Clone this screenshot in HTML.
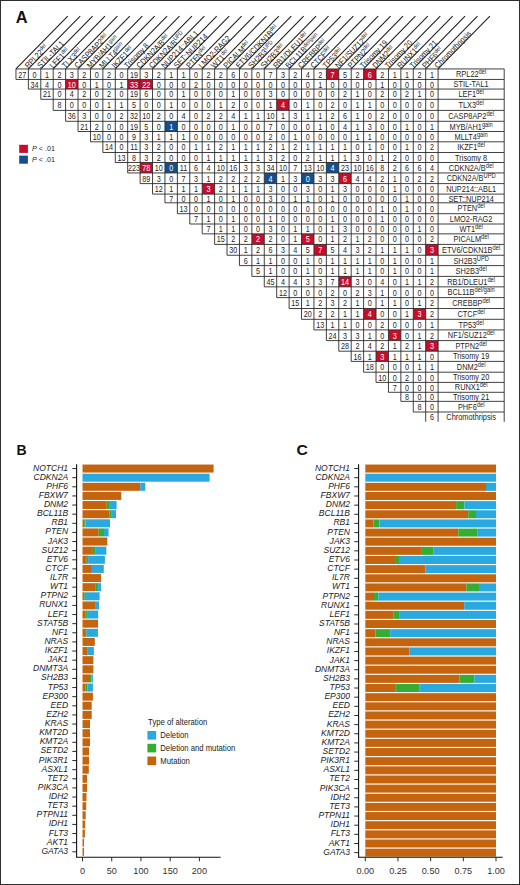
<!DOCTYPE html>
<html><head><meta charset="utf-8"><style>
html,body{margin:0;padding:0;background:#fff;}
svg{display:block;font-family:"Liberation Sans", sans-serif;}
</style></head><body>
<svg width="520" height="885" viewBox="0 0 520 885">
<rect width="520" height="885" fill="#fff"/>
<rect x="0.5" y="0.5" width="519" height="884" fill="none" stroke="#2e2e2e" stroke-width="1"/>
<text x="15.8" y="22.6" font-size="16.4" font-weight="bold" fill="#111">A</text>
<text x="16.6" y="455.1" font-size="14" font-weight="bold" fill="#111">B</text>
<text transform="translate(296.6,455.4) scale(1.1,1)" font-size="14.2" font-weight="bold" fill="#111">C</text>
<line x1="15.96" y1="68.95" x2="67.76" y2="16.15" stroke="#1c1c1c" stroke-width="1.05"/>
<line x1="28.38" y1="68.95" x2="80.18" y2="16.15" stroke="#1c1c1c" stroke-width="1.05"/>
<line x1="40.79" y1="68.95" x2="92.59" y2="16.15" stroke="#1c1c1c" stroke-width="1.05"/>
<line x1="53.21" y1="68.95" x2="105.01" y2="16.15" stroke="#1c1c1c" stroke-width="1.05"/>
<line x1="65.62" y1="68.95" x2="117.42" y2="16.15" stroke="#1c1c1c" stroke-width="1.05"/>
<line x1="78.04" y1="68.95" x2="129.84" y2="16.15" stroke="#1c1c1c" stroke-width="1.05"/>
<line x1="90.46" y1="68.95" x2="142.26" y2="16.15" stroke="#1c1c1c" stroke-width="1.05"/>
<line x1="102.87" y1="68.95" x2="154.67" y2="16.15" stroke="#1c1c1c" stroke-width="1.05"/>
<line x1="115.29" y1="68.95" x2="167.09" y2="16.15" stroke="#1c1c1c" stroke-width="1.05"/>
<line x1="127.70" y1="68.95" x2="179.50" y2="16.15" stroke="#1c1c1c" stroke-width="1.05"/>
<line x1="140.12" y1="68.95" x2="191.92" y2="16.15" stroke="#1c1c1c" stroke-width="1.05"/>
<line x1="152.54" y1="68.95" x2="204.34" y2="16.15" stroke="#1c1c1c" stroke-width="1.05"/>
<line x1="164.95" y1="68.95" x2="216.75" y2="16.15" stroke="#1c1c1c" stroke-width="1.05"/>
<line x1="177.37" y1="68.95" x2="229.17" y2="16.15" stroke="#1c1c1c" stroke-width="1.05"/>
<line x1="189.78" y1="68.95" x2="241.58" y2="16.15" stroke="#1c1c1c" stroke-width="1.05"/>
<line x1="202.20" y1="68.95" x2="254.00" y2="16.15" stroke="#1c1c1c" stroke-width="1.05"/>
<line x1="214.62" y1="68.95" x2="266.42" y2="16.15" stroke="#1c1c1c" stroke-width="1.05"/>
<line x1="227.03" y1="68.95" x2="278.83" y2="16.15" stroke="#1c1c1c" stroke-width="1.05"/>
<line x1="239.45" y1="68.95" x2="291.25" y2="16.15" stroke="#1c1c1c" stroke-width="1.05"/>
<line x1="251.86" y1="68.95" x2="303.66" y2="16.15" stroke="#1c1c1c" stroke-width="1.05"/>
<line x1="264.28" y1="68.95" x2="316.08" y2="16.15" stroke="#1c1c1c" stroke-width="1.05"/>
<line x1="276.70" y1="68.95" x2="328.50" y2="16.15" stroke="#1c1c1c" stroke-width="1.05"/>
<line x1="289.11" y1="68.95" x2="340.91" y2="16.15" stroke="#1c1c1c" stroke-width="1.05"/>
<line x1="301.53" y1="68.95" x2="353.33" y2="16.15" stroke="#1c1c1c" stroke-width="1.05"/>
<line x1="313.94" y1="68.95" x2="365.74" y2="16.15" stroke="#1c1c1c" stroke-width="1.05"/>
<line x1="326.36" y1="68.95" x2="378.16" y2="16.15" stroke="#1c1c1c" stroke-width="1.05"/>
<line x1="338.78" y1="68.95" x2="390.58" y2="16.15" stroke="#1c1c1c" stroke-width="1.05"/>
<line x1="351.19" y1="68.95" x2="402.99" y2="16.15" stroke="#1c1c1c" stroke-width="1.05"/>
<line x1="363.61" y1="68.95" x2="415.41" y2="16.15" stroke="#1c1c1c" stroke-width="1.05"/>
<line x1="376.02" y1="68.95" x2="427.82" y2="16.15" stroke="#1c1c1c" stroke-width="1.05"/>
<line x1="388.44" y1="68.95" x2="440.24" y2="16.15" stroke="#1c1c1c" stroke-width="1.05"/>
<line x1="400.86" y1="68.95" x2="452.66" y2="16.15" stroke="#1c1c1c" stroke-width="1.05"/>
<line x1="413.27" y1="68.95" x2="465.07" y2="16.15" stroke="#1c1c1c" stroke-width="1.05"/>
<line x1="425.69" y1="68.95" x2="477.49" y2="16.15" stroke="#1c1c1c" stroke-width="1.05"/>
<line x1="438.10" y1="68.95" x2="489.90" y2="16.15" stroke="#1c1c1c" stroke-width="1.05"/>
<text transform="translate(28.13,68.70) rotate(-45.55) scale(0.88,1)" font-size="8.2" fill="#242424">RPL22<tspan font-size="5.90" dy="-3">del</tspan></text>
<text transform="translate(40.54,68.70) rotate(-45.55) scale(0.88,1)" font-size="8.2" fill="#242424">STIL-TAL1</text>
<text transform="translate(52.96,68.70) rotate(-45.55) scale(0.88,1)" font-size="8.2" fill="#242424">LEF1<tspan font-size="5.90" dy="-3">del</tspan></text>
<text transform="translate(65.37,68.70) rotate(-45.55) scale(0.88,1)" font-size="8.2" fill="#242424">TLX3<tspan font-size="5.90" dy="-3">del</tspan></text>
<text transform="translate(77.79,68.70) rotate(-45.55) scale(0.88,1)" font-size="8.2" fill="#242424">CASP8AP2<tspan font-size="5.90" dy="-3">del</tspan></text>
<text transform="translate(90.21,68.70) rotate(-45.55) scale(0.88,1)" font-size="8.2" fill="#242424">MYB/AH1<tspan font-size="5.90" dy="-3">gain</tspan></text>
<text transform="translate(102.62,68.70) rotate(-45.55) scale(0.88,1)" font-size="8.2" fill="#242424">MLLT4<tspan font-size="5.90" dy="-3">gain</tspan></text>
<text transform="translate(115.04,68.70) rotate(-45.55) scale(0.88,1)" font-size="8.2" fill="#242424">IKZF1<tspan font-size="5.90" dy="-3">del</tspan></text>
<text transform="translate(127.45,68.70) rotate(-45.55) scale(0.88,1)" font-size="8.2" fill="#242424">Trisomy 8</text>
<text transform="translate(139.87,68.70) rotate(-45.55) scale(0.88,1)" font-size="8.2" fill="#242424">CDKN2A/B<tspan font-size="5.90" dy="-3">del</tspan></text>
<text transform="translate(152.29,68.70) rotate(-45.55) scale(0.88,1)" font-size="8.2" fill="#242424">CDKN2A/B<tspan font-size="5.90" dy="-3">UPD</tspan></text>
<text transform="translate(164.70,68.70) rotate(-45.55) scale(0.88,1)" font-size="8.2" fill="#242424">NUP214::ABL1</text>
<text transform="translate(177.12,68.70) rotate(-45.55) scale(0.88,1)" font-size="8.2" fill="#242424">SET::NUP214</text>
<text transform="translate(189.53,68.70) rotate(-45.55) scale(0.88,1)" font-size="8.2" fill="#242424">PTEN<tspan font-size="5.90" dy="-3">del</tspan></text>
<text transform="translate(201.95,68.70) rotate(-45.55) scale(0.88,1)" font-size="8.2" fill="#242424">LMO2-RAG2</text>
<text transform="translate(214.37,68.70) rotate(-45.55) scale(0.88,1)" font-size="8.2" fill="#242424">WT1<tspan font-size="5.90" dy="-3">del</tspan></text>
<text transform="translate(226.78,68.70) rotate(-45.55) scale(0.88,1)" font-size="8.2" fill="#242424">PICALM<tspan font-size="5.90" dy="-3">del</tspan></text>
<text transform="translate(239.20,68.70) rotate(-45.55) scale(0.88,1)" font-size="8.2" fill="#242424">ETV6/CDKN1B<tspan font-size="5.90" dy="-3">del</tspan></text>
<text transform="translate(251.61,68.70) rotate(-45.55) scale(0.88,1)" font-size="8.2" fill="#242424">SH2B3<tspan font-size="5.90" dy="-3">UPD</tspan></text>
<text transform="translate(264.03,68.70) rotate(-45.55) scale(0.88,1)" font-size="8.2" fill="#242424">SH2B3<tspan font-size="5.90" dy="-3">del</tspan></text>
<text transform="translate(276.45,68.70) rotate(-45.55) scale(0.88,1)" font-size="8.2" fill="#242424">RB1/DLEU1<tspan font-size="5.90" dy="-3">del</tspan></text>
<text transform="translate(288.86,68.70) rotate(-45.55) scale(0.88,1)" font-size="8.2" fill="#242424">BCL11B<tspan font-size="5.90" dy="-3">del/gain</tspan></text>
<text transform="translate(301.28,68.70) rotate(-45.55) scale(0.88,1)" font-size="8.2" fill="#242424">CREBBP<tspan font-size="5.90" dy="-3">del</tspan></text>
<text transform="translate(313.69,68.70) rotate(-45.55) scale(0.88,1)" font-size="8.2" fill="#242424">CTCF<tspan font-size="5.90" dy="-3">del</tspan></text>
<text transform="translate(326.11,68.70) rotate(-45.55) scale(0.88,1)" font-size="8.2" fill="#242424">TP53<tspan font-size="5.90" dy="-3">del</tspan></text>
<text transform="translate(338.53,68.70) rotate(-45.55) scale(0.88,1)" font-size="8.2" fill="#242424">NF1/SUZ12<tspan font-size="5.90" dy="-3">del</tspan></text>
<text transform="translate(350.94,68.70) rotate(-45.55) scale(0.88,1)" font-size="8.2" fill="#242424">PTPN2<tspan font-size="5.90" dy="-3">del</tspan></text>
<text transform="translate(363.36,68.70) rotate(-45.55) scale(0.88,1)" font-size="8.2" fill="#242424">Trisomy 19</text>
<text transform="translate(375.77,68.70) rotate(-45.55) scale(0.88,1)" font-size="8.2" fill="#242424">DNM2<tspan font-size="5.90" dy="-3">del</tspan></text>
<text transform="translate(388.19,68.70) rotate(-45.55) scale(0.88,1)" font-size="8.2" fill="#242424">Trisomy 20</text>
<text transform="translate(400.61,68.70) rotate(-45.55) scale(0.88,1)" font-size="8.2" fill="#242424">RUNX1<tspan font-size="5.90" dy="-3">del</tspan></text>
<text transform="translate(413.02,68.70) rotate(-45.55) scale(0.88,1)" font-size="8.2" fill="#242424">Trisomy 21</text>
<text transform="translate(425.44,68.70) rotate(-45.55) scale(0.88,1)" font-size="8.2" fill="#242424">PHF6<tspan font-size="5.90" dy="-3">del</tspan></text>
<text transform="translate(437.85,68.70) rotate(-45.55) scale(0.88,1)" font-size="8.2" fill="#242424">Chromothripsis</text>
<rect x="326.36" y="68.95" width="12.42" height="10.50" fill="#c70d2c"/>
<rect x="363.61" y="68.95" width="12.42" height="10.50" fill="#c70d2c"/>
<rect x="65.62" y="79.45" width="12.42" height="9.60" fill="#c70d2c"/>
<rect x="127.70" y="79.45" width="12.42" height="9.60" fill="#c70d2c"/>
<rect x="140.12" y="79.45" width="12.42" height="9.60" fill="#c70d2c"/>
<rect x="276.70" y="99.30" width="12.42" height="11.10" fill="#c70d2c"/>
<rect x="164.95" y="121.30" width="12.42" height="10.20" fill="#134e8d"/>
<rect x="140.12" y="162.50" width="12.42" height="10.45" fill="#c70d2c"/>
<rect x="164.95" y="162.50" width="12.42" height="10.45" fill="#134e8d"/>
<rect x="326.36" y="162.50" width="12.42" height="10.45" fill="#134e8d"/>
<rect x="264.28" y="172.95" width="12.42" height="10.65" fill="#134e8d"/>
<rect x="301.53" y="172.95" width="12.42" height="10.65" fill="#134e8d"/>
<rect x="338.78" y="172.95" width="12.42" height="10.65" fill="#c70d2c"/>
<rect x="202.20" y="183.60" width="12.42" height="10.50" fill="#c70d2c"/>
<rect x="251.86" y="233.85" width="12.42" height="10.55" fill="#c70d2c"/>
<rect x="301.53" y="233.85" width="12.42" height="10.55" fill="#c70d2c"/>
<rect x="313.94" y="244.40" width="12.42" height="10.85" fill="#c70d2c"/>
<rect x="425.69" y="244.40" width="12.42" height="10.85" fill="#c70d2c"/>
<rect x="338.78" y="276.40" width="12.42" height="10.45" fill="#c70d2c"/>
<rect x="363.61" y="308.50" width="12.42" height="10.80" fill="#c70d2c"/>
<rect x="413.27" y="308.50" width="12.42" height="10.80" fill="#c70d2c"/>
<rect x="388.44" y="329.90" width="12.42" height="10.70" fill="#c70d2c"/>
<rect x="425.69" y="340.60" width="12.42" height="10.60" fill="#c70d2c"/>
<rect x="376.02" y="351.20" width="12.42" height="10.20" fill="#c70d2c"/>
<line x1="15.96" y1="68.95" x2="504.20" y2="68.95" stroke="#2b2b2b" stroke-width="0.9"/>
<line x1="15.96" y1="79.45" x2="504.20" y2="79.45" stroke="#2b2b2b" stroke-width="0.9"/>
<line x1="28.38" y1="89.05" x2="504.20" y2="89.05" stroke="#2b2b2b" stroke-width="0.9"/>
<line x1="40.79" y1="99.30" x2="504.20" y2="99.30" stroke="#2b2b2b" stroke-width="0.9"/>
<line x1="53.21" y1="110.40" x2="504.20" y2="110.40" stroke="#2b2b2b" stroke-width="0.9"/>
<line x1="65.62" y1="121.30" x2="504.20" y2="121.30" stroke="#2b2b2b" stroke-width="0.9"/>
<line x1="78.04" y1="131.50" x2="504.20" y2="131.50" stroke="#2b2b2b" stroke-width="0.9"/>
<line x1="90.46" y1="141.80" x2="504.20" y2="141.80" stroke="#2b2b2b" stroke-width="0.9"/>
<line x1="102.87" y1="152.50" x2="504.20" y2="152.50" stroke="#2b2b2b" stroke-width="0.9"/>
<line x1="115.29" y1="162.50" x2="504.20" y2="162.50" stroke="#2b2b2b" stroke-width="0.9"/>
<line x1="127.70" y1="172.95" x2="504.20" y2="172.95" stroke="#2b2b2b" stroke-width="0.9"/>
<line x1="140.12" y1="183.60" x2="504.20" y2="183.60" stroke="#2b2b2b" stroke-width="0.9"/>
<line x1="152.54" y1="194.10" x2="504.20" y2="194.10" stroke="#2b2b2b" stroke-width="0.9"/>
<line x1="164.95" y1="202.80" x2="504.20" y2="202.80" stroke="#2b2b2b" stroke-width="0.9"/>
<line x1="177.37" y1="213.70" x2="504.20" y2="213.70" stroke="#2b2b2b" stroke-width="0.9"/>
<line x1="189.78" y1="224.00" x2="504.20" y2="224.00" stroke="#2b2b2b" stroke-width="0.9"/>
<line x1="202.20" y1="233.85" x2="504.20" y2="233.85" stroke="#2b2b2b" stroke-width="0.9"/>
<line x1="214.62" y1="244.40" x2="504.20" y2="244.40" stroke="#2b2b2b" stroke-width="0.9"/>
<line x1="227.03" y1="255.25" x2="504.20" y2="255.25" stroke="#2b2b2b" stroke-width="0.9"/>
<line x1="239.45" y1="265.60" x2="504.20" y2="265.60" stroke="#2b2b2b" stroke-width="0.9"/>
<line x1="251.86" y1="276.40" x2="504.20" y2="276.40" stroke="#2b2b2b" stroke-width="0.9"/>
<line x1="264.28" y1="286.85" x2="504.20" y2="286.85" stroke="#2b2b2b" stroke-width="0.9"/>
<line x1="276.70" y1="297.60" x2="504.20" y2="297.60" stroke="#2b2b2b" stroke-width="0.9"/>
<line x1="289.11" y1="308.50" x2="504.20" y2="308.50" stroke="#2b2b2b" stroke-width="0.9"/>
<line x1="301.53" y1="319.30" x2="504.20" y2="319.30" stroke="#2b2b2b" stroke-width="0.9"/>
<line x1="313.94" y1="329.90" x2="504.20" y2="329.90" stroke="#2b2b2b" stroke-width="0.9"/>
<line x1="326.36" y1="340.60" x2="504.20" y2="340.60" stroke="#2b2b2b" stroke-width="0.9"/>
<line x1="338.78" y1="351.20" x2="504.20" y2="351.20" stroke="#2b2b2b" stroke-width="0.9"/>
<line x1="351.19" y1="361.40" x2="504.20" y2="361.40" stroke="#2b2b2b" stroke-width="0.9"/>
<line x1="363.61" y1="372.20" x2="504.20" y2="372.20" stroke="#2b2b2b" stroke-width="0.9"/>
<line x1="376.02" y1="382.40" x2="504.20" y2="382.40" stroke="#2b2b2b" stroke-width="0.9"/>
<line x1="388.44" y1="392.30" x2="504.20" y2="392.30" stroke="#2b2b2b" stroke-width="0.9"/>
<line x1="400.86" y1="401.35" x2="504.20" y2="401.35" stroke="#2b2b2b" stroke-width="0.9"/>
<line x1="413.27" y1="412.00" x2="504.20" y2="412.00" stroke="#2b2b2b" stroke-width="0.9"/>
<line x1="15.96" y1="68.95" x2="15.96" y2="79.45" stroke="#2b2b2b" stroke-width="0.9"/>
<line x1="28.38" y1="68.95" x2="28.38" y2="89.05" stroke="#2b2b2b" stroke-width="0.9"/>
<line x1="40.79" y1="68.95" x2="40.79" y2="99.30" stroke="#2b2b2b" stroke-width="0.9"/>
<line x1="53.21" y1="68.95" x2="53.21" y2="110.40" stroke="#2b2b2b" stroke-width="0.9"/>
<line x1="65.62" y1="68.95" x2="65.62" y2="121.30" stroke="#2b2b2b" stroke-width="0.9"/>
<line x1="78.04" y1="68.95" x2="78.04" y2="131.50" stroke="#2b2b2b" stroke-width="0.9"/>
<line x1="90.46" y1="68.95" x2="90.46" y2="141.80" stroke="#2b2b2b" stroke-width="0.9"/>
<line x1="102.87" y1="68.95" x2="102.87" y2="152.50" stroke="#2b2b2b" stroke-width="0.9"/>
<line x1="115.29" y1="68.95" x2="115.29" y2="162.50" stroke="#2b2b2b" stroke-width="0.9"/>
<line x1="127.70" y1="68.95" x2="127.70" y2="172.95" stroke="#2b2b2b" stroke-width="0.9"/>
<line x1="140.12" y1="68.95" x2="140.12" y2="183.60" stroke="#2b2b2b" stroke-width="0.9"/>
<line x1="152.54" y1="68.95" x2="152.54" y2="194.10" stroke="#2b2b2b" stroke-width="0.9"/>
<line x1="164.95" y1="68.95" x2="164.95" y2="202.80" stroke="#2b2b2b" stroke-width="0.9"/>
<line x1="177.37" y1="68.95" x2="177.37" y2="213.70" stroke="#2b2b2b" stroke-width="0.9"/>
<line x1="189.78" y1="68.95" x2="189.78" y2="224.00" stroke="#2b2b2b" stroke-width="0.9"/>
<line x1="202.20" y1="68.95" x2="202.20" y2="233.85" stroke="#2b2b2b" stroke-width="0.9"/>
<line x1="214.62" y1="68.95" x2="214.62" y2="244.40" stroke="#2b2b2b" stroke-width="0.9"/>
<line x1="227.03" y1="68.95" x2="227.03" y2="255.25" stroke="#2b2b2b" stroke-width="0.9"/>
<line x1="239.45" y1="68.95" x2="239.45" y2="265.60" stroke="#2b2b2b" stroke-width="0.9"/>
<line x1="251.86" y1="68.95" x2="251.86" y2="276.40" stroke="#2b2b2b" stroke-width="0.9"/>
<line x1="264.28" y1="68.95" x2="264.28" y2="286.85" stroke="#2b2b2b" stroke-width="0.9"/>
<line x1="276.70" y1="68.95" x2="276.70" y2="297.60" stroke="#2b2b2b" stroke-width="0.9"/>
<line x1="289.11" y1="68.95" x2="289.11" y2="308.50" stroke="#2b2b2b" stroke-width="0.9"/>
<line x1="301.53" y1="68.95" x2="301.53" y2="319.30" stroke="#2b2b2b" stroke-width="0.9"/>
<line x1="313.94" y1="68.95" x2="313.94" y2="329.90" stroke="#2b2b2b" stroke-width="0.9"/>
<line x1="326.36" y1="68.95" x2="326.36" y2="340.60" stroke="#2b2b2b" stroke-width="0.9"/>
<line x1="338.78" y1="68.95" x2="338.78" y2="351.20" stroke="#2b2b2b" stroke-width="0.9"/>
<line x1="351.19" y1="68.95" x2="351.19" y2="361.40" stroke="#2b2b2b" stroke-width="0.9"/>
<line x1="363.61" y1="68.95" x2="363.61" y2="372.20" stroke="#2b2b2b" stroke-width="0.9"/>
<line x1="376.02" y1="68.95" x2="376.02" y2="382.40" stroke="#2b2b2b" stroke-width="0.9"/>
<line x1="388.44" y1="68.95" x2="388.44" y2="392.30" stroke="#2b2b2b" stroke-width="0.9"/>
<line x1="400.86" y1="68.95" x2="400.86" y2="401.35" stroke="#2b2b2b" stroke-width="0.9"/>
<line x1="413.27" y1="68.95" x2="413.27" y2="412.00" stroke="#2b2b2b" stroke-width="0.9"/>
<line x1="425.69" y1="68.95" x2="425.69" y2="421.80" stroke="#2b2b2b" stroke-width="0.9"/>
<line x1="438.10" y1="68.95" x2="438.10" y2="421.80" stroke="#2b2b2b" stroke-width="0.9"/>
<line x1="504.20" y1="68.95" x2="504.20" y2="421.80" stroke="#2b2b2b" stroke-width="0.9"/>
<text transform="translate(22.17,77.50) scale(0.85,1)" font-size="8.5" text-anchor="middle" fill="#242424">27</text>
<text transform="translate(34.58,77.50) scale(0.85,1)" font-size="8.5" text-anchor="middle" fill="#242424">0</text>
<text transform="translate(47.00,77.50) scale(0.85,1)" font-size="8.5" text-anchor="middle" fill="#242424">1</text>
<text transform="translate(59.42,77.50) scale(0.85,1)" font-size="8.5" text-anchor="middle" fill="#242424">2</text>
<text transform="translate(71.83,77.50) scale(0.85,1)" font-size="8.5" text-anchor="middle" fill="#242424">3</text>
<text transform="translate(84.25,77.50) scale(0.85,1)" font-size="8.5" text-anchor="middle" fill="#242424">2</text>
<text transform="translate(96.66,77.50) scale(0.85,1)" font-size="8.5" text-anchor="middle" fill="#242424">0</text>
<text transform="translate(109.08,77.50) scale(0.85,1)" font-size="8.5" text-anchor="middle" fill="#242424">2</text>
<text transform="translate(121.50,77.50) scale(0.85,1)" font-size="8.5" text-anchor="middle" fill="#242424">0</text>
<text transform="translate(133.91,77.50) scale(0.85,1)" font-size="8.5" text-anchor="middle" fill="#242424">19</text>
<text transform="translate(146.33,77.50) scale(0.85,1)" font-size="8.5" text-anchor="middle" fill="#242424">3</text>
<text transform="translate(158.74,77.50) scale(0.85,1)" font-size="8.5" text-anchor="middle" fill="#242424">2</text>
<text transform="translate(171.16,77.50) scale(0.85,1)" font-size="8.5" text-anchor="middle" fill="#242424">1</text>
<text transform="translate(183.58,77.50) scale(0.85,1)" font-size="8.5" text-anchor="middle" fill="#242424">1</text>
<text transform="translate(195.99,77.50) scale(0.85,1)" font-size="8.5" text-anchor="middle" fill="#242424">0</text>
<text transform="translate(208.41,77.50) scale(0.85,1)" font-size="8.5" text-anchor="middle" fill="#242424">2</text>
<text transform="translate(220.82,77.50) scale(0.85,1)" font-size="8.5" text-anchor="middle" fill="#242424">2</text>
<text transform="translate(233.24,77.50) scale(0.85,1)" font-size="8.5" text-anchor="middle" fill="#242424">6</text>
<text transform="translate(245.66,77.50) scale(0.85,1)" font-size="8.5" text-anchor="middle" fill="#242424">0</text>
<text transform="translate(258.07,77.50) scale(0.85,1)" font-size="8.5" text-anchor="middle" fill="#242424">0</text>
<text transform="translate(270.49,77.50) scale(0.85,1)" font-size="8.5" text-anchor="middle" fill="#242424">7</text>
<text transform="translate(282.90,77.50) scale(0.85,1)" font-size="8.5" text-anchor="middle" fill="#242424">3</text>
<text transform="translate(295.32,77.50) scale(0.85,1)" font-size="8.5" text-anchor="middle" fill="#242424">2</text>
<text transform="translate(307.74,77.50) scale(0.85,1)" font-size="8.5" text-anchor="middle" fill="#242424">4</text>
<text transform="translate(320.15,77.50) scale(0.85,1)" font-size="8.5" text-anchor="middle" fill="#242424">2</text>
<text transform="translate(332.57,77.50) scale(0.85,1)" font-size="8.5" text-anchor="middle" fill="#ffffff">7</text>
<text transform="translate(344.98,77.50) scale(0.85,1)" font-size="8.5" text-anchor="middle" fill="#242424">5</text>
<text transform="translate(357.40,77.50) scale(0.85,1)" font-size="8.5" text-anchor="middle" fill="#242424">2</text>
<text transform="translate(369.82,77.50) scale(0.85,1)" font-size="8.5" text-anchor="middle" fill="#ffffff">6</text>
<text transform="translate(382.23,77.50) scale(0.85,1)" font-size="8.5" text-anchor="middle" fill="#242424">2</text>
<text transform="translate(394.65,77.50) scale(0.85,1)" font-size="8.5" text-anchor="middle" fill="#242424">1</text>
<text transform="translate(407.06,77.50) scale(0.85,1)" font-size="8.5" text-anchor="middle" fill="#242424">1</text>
<text transform="translate(419.48,77.50) scale(0.85,1)" font-size="8.5" text-anchor="middle" fill="#242424">2</text>
<text transform="translate(431.90,77.50) scale(0.85,1)" font-size="8.5" text-anchor="middle" fill="#242424">1</text>
<text transform="translate(34.58,87.55) scale(0.85,1)" font-size="8.5" text-anchor="middle" fill="#242424">34</text>
<text transform="translate(47.00,87.55) scale(0.85,1)" font-size="8.5" text-anchor="middle" fill="#242424">4</text>
<text transform="translate(59.42,87.55) scale(0.85,1)" font-size="8.5" text-anchor="middle" fill="#242424">0</text>
<text transform="translate(71.83,87.55) scale(0.85,1)" font-size="8.5" text-anchor="middle" fill="#ffffff">10</text>
<text transform="translate(84.25,87.55) scale(0.85,1)" font-size="8.5" text-anchor="middle" fill="#242424">0</text>
<text transform="translate(96.66,87.55) scale(0.85,1)" font-size="8.5" text-anchor="middle" fill="#242424">1</text>
<text transform="translate(109.08,87.55) scale(0.85,1)" font-size="8.5" text-anchor="middle" fill="#242424">0</text>
<text transform="translate(121.50,87.55) scale(0.85,1)" font-size="8.5" text-anchor="middle" fill="#242424">1</text>
<text transform="translate(133.91,87.55) scale(0.85,1)" font-size="8.5" text-anchor="middle" fill="#ffffff">33</text>
<text transform="translate(146.33,87.55) scale(0.85,1)" font-size="8.5" text-anchor="middle" fill="#ffffff">22</text>
<text transform="translate(158.74,87.55) scale(0.85,1)" font-size="8.5" text-anchor="middle" fill="#242424">0</text>
<text transform="translate(171.16,87.55) scale(0.85,1)" font-size="8.5" text-anchor="middle" fill="#242424">0</text>
<text transform="translate(183.58,87.55) scale(0.85,1)" font-size="8.5" text-anchor="middle" fill="#242424">0</text>
<text transform="translate(195.99,87.55) scale(0.85,1)" font-size="8.5" text-anchor="middle" fill="#242424">2</text>
<text transform="translate(208.41,87.55) scale(0.85,1)" font-size="8.5" text-anchor="middle" fill="#242424">0</text>
<text transform="translate(220.82,87.55) scale(0.85,1)" font-size="8.5" text-anchor="middle" fill="#242424">0</text>
<text transform="translate(233.24,87.55) scale(0.85,1)" font-size="8.5" text-anchor="middle" fill="#242424">0</text>
<text transform="translate(245.66,87.55) scale(0.85,1)" font-size="8.5" text-anchor="middle" fill="#242424">0</text>
<text transform="translate(258.07,87.55) scale(0.85,1)" font-size="8.5" text-anchor="middle" fill="#242424">0</text>
<text transform="translate(270.49,87.55) scale(0.85,1)" font-size="8.5" text-anchor="middle" fill="#242424">0</text>
<text transform="translate(282.90,87.55) scale(0.85,1)" font-size="8.5" text-anchor="middle" fill="#242424">0</text>
<text transform="translate(295.32,87.55) scale(0.85,1)" font-size="8.5" text-anchor="middle" fill="#242424">0</text>
<text transform="translate(307.74,87.55) scale(0.85,1)" font-size="8.5" text-anchor="middle" fill="#242424">0</text>
<text transform="translate(320.15,87.55) scale(0.85,1)" font-size="8.5" text-anchor="middle" fill="#242424">1</text>
<text transform="translate(332.57,87.55) scale(0.85,1)" font-size="8.5" text-anchor="middle" fill="#242424">0</text>
<text transform="translate(344.98,87.55) scale(0.85,1)" font-size="8.5" text-anchor="middle" fill="#242424">0</text>
<text transform="translate(357.40,87.55) scale(0.85,1)" font-size="8.5" text-anchor="middle" fill="#242424">0</text>
<text transform="translate(369.82,87.55) scale(0.85,1)" font-size="8.5" text-anchor="middle" fill="#242424">0</text>
<text transform="translate(382.23,87.55) scale(0.85,1)" font-size="8.5" text-anchor="middle" fill="#242424">1</text>
<text transform="translate(394.65,87.55) scale(0.85,1)" font-size="8.5" text-anchor="middle" fill="#242424">0</text>
<text transform="translate(407.06,87.55) scale(0.85,1)" font-size="8.5" text-anchor="middle" fill="#242424">0</text>
<text transform="translate(419.48,87.55) scale(0.85,1)" font-size="8.5" text-anchor="middle" fill="#242424">0</text>
<text transform="translate(431.90,87.55) scale(0.85,1)" font-size="8.5" text-anchor="middle" fill="#242424">0</text>
<text transform="translate(47.00,97.47) scale(0.85,1)" font-size="8.5" text-anchor="middle" fill="#242424">21</text>
<text transform="translate(59.42,97.47) scale(0.85,1)" font-size="8.5" text-anchor="middle" fill="#242424">0</text>
<text transform="translate(71.83,97.47) scale(0.85,1)" font-size="8.5" text-anchor="middle" fill="#242424">4</text>
<text transform="translate(84.25,97.47) scale(0.85,1)" font-size="8.5" text-anchor="middle" fill="#242424">2</text>
<text transform="translate(96.66,97.47) scale(0.85,1)" font-size="8.5" text-anchor="middle" fill="#242424">0</text>
<text transform="translate(109.08,97.47) scale(0.85,1)" font-size="8.5" text-anchor="middle" fill="#242424">2</text>
<text transform="translate(121.50,97.47) scale(0.85,1)" font-size="8.5" text-anchor="middle" fill="#242424">0</text>
<text transform="translate(133.91,97.47) scale(0.85,1)" font-size="8.5" text-anchor="middle" fill="#242424">19</text>
<text transform="translate(146.33,97.47) scale(0.85,1)" font-size="8.5" text-anchor="middle" fill="#242424">6</text>
<text transform="translate(158.74,97.47) scale(0.85,1)" font-size="8.5" text-anchor="middle" fill="#242424">0</text>
<text transform="translate(171.16,97.47) scale(0.85,1)" font-size="8.5" text-anchor="middle" fill="#242424">0</text>
<text transform="translate(183.58,97.47) scale(0.85,1)" font-size="8.5" text-anchor="middle" fill="#242424">1</text>
<text transform="translate(195.99,97.47) scale(0.85,1)" font-size="8.5" text-anchor="middle" fill="#242424">0</text>
<text transform="translate(208.41,97.47) scale(0.85,1)" font-size="8.5" text-anchor="middle" fill="#242424">0</text>
<text transform="translate(220.82,97.47) scale(0.85,1)" font-size="8.5" text-anchor="middle" fill="#242424">0</text>
<text transform="translate(233.24,97.47) scale(0.85,1)" font-size="8.5" text-anchor="middle" fill="#242424">1</text>
<text transform="translate(245.66,97.47) scale(0.85,1)" font-size="8.5" text-anchor="middle" fill="#242424">0</text>
<text transform="translate(258.07,97.47) scale(0.85,1)" font-size="8.5" text-anchor="middle" fill="#242424">0</text>
<text transform="translate(270.49,97.47) scale(0.85,1)" font-size="8.5" text-anchor="middle" fill="#242424">3</text>
<text transform="translate(282.90,97.47) scale(0.85,1)" font-size="8.5" text-anchor="middle" fill="#242424">0</text>
<text transform="translate(295.32,97.47) scale(0.85,1)" font-size="8.5" text-anchor="middle" fill="#242424">0</text>
<text transform="translate(307.74,97.47) scale(0.85,1)" font-size="8.5" text-anchor="middle" fill="#242424">0</text>
<text transform="translate(320.15,97.47) scale(0.85,1)" font-size="8.5" text-anchor="middle" fill="#242424">0</text>
<text transform="translate(332.57,97.47) scale(0.85,1)" font-size="8.5" text-anchor="middle" fill="#242424">0</text>
<text transform="translate(344.98,97.47) scale(0.85,1)" font-size="8.5" text-anchor="middle" fill="#242424">2</text>
<text transform="translate(357.40,97.47) scale(0.85,1)" font-size="8.5" text-anchor="middle" fill="#242424">1</text>
<text transform="translate(369.82,97.47) scale(0.85,1)" font-size="8.5" text-anchor="middle" fill="#242424">0</text>
<text transform="translate(382.23,97.47) scale(0.85,1)" font-size="8.5" text-anchor="middle" fill="#242424">2</text>
<text transform="translate(394.65,97.47) scale(0.85,1)" font-size="8.5" text-anchor="middle" fill="#242424">0</text>
<text transform="translate(407.06,97.47) scale(0.85,1)" font-size="8.5" text-anchor="middle" fill="#242424">2</text>
<text transform="translate(419.48,97.47) scale(0.85,1)" font-size="8.5" text-anchor="middle" fill="#242424">1</text>
<text transform="translate(431.90,97.47) scale(0.85,1)" font-size="8.5" text-anchor="middle" fill="#242424">0</text>
<text transform="translate(59.42,108.15) scale(0.85,1)" font-size="8.5" text-anchor="middle" fill="#242424">8</text>
<text transform="translate(71.83,108.15) scale(0.85,1)" font-size="8.5" text-anchor="middle" fill="#242424">0</text>
<text transform="translate(84.25,108.15) scale(0.85,1)" font-size="8.5" text-anchor="middle" fill="#242424">0</text>
<text transform="translate(96.66,108.15) scale(0.85,1)" font-size="8.5" text-anchor="middle" fill="#242424">0</text>
<text transform="translate(109.08,108.15) scale(0.85,1)" font-size="8.5" text-anchor="middle" fill="#242424">1</text>
<text transform="translate(121.50,108.15) scale(0.85,1)" font-size="8.5" text-anchor="middle" fill="#242424">1</text>
<text transform="translate(133.91,108.15) scale(0.85,1)" font-size="8.5" text-anchor="middle" fill="#242424">5</text>
<text transform="translate(146.33,108.15) scale(0.85,1)" font-size="8.5" text-anchor="middle" fill="#242424">0</text>
<text transform="translate(158.74,108.15) scale(0.85,1)" font-size="8.5" text-anchor="middle" fill="#242424">0</text>
<text transform="translate(171.16,108.15) scale(0.85,1)" font-size="8.5" text-anchor="middle" fill="#242424">1</text>
<text transform="translate(183.58,108.15) scale(0.85,1)" font-size="8.5" text-anchor="middle" fill="#242424">0</text>
<text transform="translate(195.99,108.15) scale(0.85,1)" font-size="8.5" text-anchor="middle" fill="#242424">0</text>
<text transform="translate(208.41,108.15) scale(0.85,1)" font-size="8.5" text-anchor="middle" fill="#242424">0</text>
<text transform="translate(220.82,108.15) scale(0.85,1)" font-size="8.5" text-anchor="middle" fill="#242424">1</text>
<text transform="translate(233.24,108.15) scale(0.85,1)" font-size="8.5" text-anchor="middle" fill="#242424">2</text>
<text transform="translate(245.66,108.15) scale(0.85,1)" font-size="8.5" text-anchor="middle" fill="#242424">0</text>
<text transform="translate(258.07,108.15) scale(0.85,1)" font-size="8.5" text-anchor="middle" fill="#242424">0</text>
<text transform="translate(270.49,108.15) scale(0.85,1)" font-size="8.5" text-anchor="middle" fill="#242424">1</text>
<text transform="translate(282.90,108.15) scale(0.85,1)" font-size="8.5" text-anchor="middle" fill="#ffffff">4</text>
<text transform="translate(295.32,108.15) scale(0.85,1)" font-size="8.5" text-anchor="middle" fill="#242424">0</text>
<text transform="translate(307.74,108.15) scale(0.85,1)" font-size="8.5" text-anchor="middle" fill="#242424">1</text>
<text transform="translate(320.15,108.15) scale(0.85,1)" font-size="8.5" text-anchor="middle" fill="#242424">0</text>
<text transform="translate(332.57,108.15) scale(0.85,1)" font-size="8.5" text-anchor="middle" fill="#242424">2</text>
<text transform="translate(344.98,108.15) scale(0.85,1)" font-size="8.5" text-anchor="middle" fill="#242424">0</text>
<text transform="translate(357.40,108.15) scale(0.85,1)" font-size="8.5" text-anchor="middle" fill="#242424">1</text>
<text transform="translate(369.82,108.15) scale(0.85,1)" font-size="8.5" text-anchor="middle" fill="#242424">1</text>
<text transform="translate(382.23,108.15) scale(0.85,1)" font-size="8.5" text-anchor="middle" fill="#242424">0</text>
<text transform="translate(394.65,108.15) scale(0.85,1)" font-size="8.5" text-anchor="middle" fill="#242424">0</text>
<text transform="translate(407.06,108.15) scale(0.85,1)" font-size="8.5" text-anchor="middle" fill="#242424">0</text>
<text transform="translate(419.48,108.15) scale(0.85,1)" font-size="8.5" text-anchor="middle" fill="#242424">0</text>
<text transform="translate(431.90,108.15) scale(0.85,1)" font-size="8.5" text-anchor="middle" fill="#242424">0</text>
<text transform="translate(71.83,119.15) scale(0.85,1)" font-size="8.5" text-anchor="middle" fill="#242424">36</text>
<text transform="translate(84.25,119.15) scale(0.85,1)" font-size="8.5" text-anchor="middle" fill="#242424">3</text>
<text transform="translate(96.66,119.15) scale(0.85,1)" font-size="8.5" text-anchor="middle" fill="#242424">0</text>
<text transform="translate(109.08,119.15) scale(0.85,1)" font-size="8.5" text-anchor="middle" fill="#242424">0</text>
<text transform="translate(121.50,119.15) scale(0.85,1)" font-size="8.5" text-anchor="middle" fill="#242424">2</text>
<text transform="translate(133.91,119.15) scale(0.85,1)" font-size="8.5" text-anchor="middle" fill="#242424">32</text>
<text transform="translate(146.33,119.15) scale(0.85,1)" font-size="8.5" text-anchor="middle" fill="#242424">10</text>
<text transform="translate(158.74,119.15) scale(0.85,1)" font-size="8.5" text-anchor="middle" fill="#242424">2</text>
<text transform="translate(171.16,119.15) scale(0.85,1)" font-size="8.5" text-anchor="middle" fill="#242424">0</text>
<text transform="translate(183.58,119.15) scale(0.85,1)" font-size="8.5" text-anchor="middle" fill="#242424">4</text>
<text transform="translate(195.99,119.15) scale(0.85,1)" font-size="8.5" text-anchor="middle" fill="#242424">0</text>
<text transform="translate(208.41,119.15) scale(0.85,1)" font-size="8.5" text-anchor="middle" fill="#242424">2</text>
<text transform="translate(220.82,119.15) scale(0.85,1)" font-size="8.5" text-anchor="middle" fill="#242424">2</text>
<text transform="translate(233.24,119.15) scale(0.85,1)" font-size="8.5" text-anchor="middle" fill="#242424">4</text>
<text transform="translate(245.66,119.15) scale(0.85,1)" font-size="8.5" text-anchor="middle" fill="#242424">1</text>
<text transform="translate(258.07,119.15) scale(0.85,1)" font-size="8.5" text-anchor="middle" fill="#242424">1</text>
<text transform="translate(270.49,119.15) scale(0.85,1)" font-size="8.5" text-anchor="middle" fill="#242424">10</text>
<text transform="translate(282.90,119.15) scale(0.85,1)" font-size="8.5" text-anchor="middle" fill="#242424">1</text>
<text transform="translate(295.32,119.15) scale(0.85,1)" font-size="8.5" text-anchor="middle" fill="#242424">3</text>
<text transform="translate(307.74,119.15) scale(0.85,1)" font-size="8.5" text-anchor="middle" fill="#242424">1</text>
<text transform="translate(320.15,119.15) scale(0.85,1)" font-size="8.5" text-anchor="middle" fill="#242424">1</text>
<text transform="translate(332.57,119.15) scale(0.85,1)" font-size="8.5" text-anchor="middle" fill="#242424">2</text>
<text transform="translate(344.98,119.15) scale(0.85,1)" font-size="8.5" text-anchor="middle" fill="#242424">6</text>
<text transform="translate(357.40,119.15) scale(0.85,1)" font-size="8.5" text-anchor="middle" fill="#242424">1</text>
<text transform="translate(369.82,119.15) scale(0.85,1)" font-size="8.5" text-anchor="middle" fill="#242424">0</text>
<text transform="translate(382.23,119.15) scale(0.85,1)" font-size="8.5" text-anchor="middle" fill="#242424">2</text>
<text transform="translate(394.65,119.15) scale(0.85,1)" font-size="8.5" text-anchor="middle" fill="#242424">0</text>
<text transform="translate(407.06,119.15) scale(0.85,1)" font-size="8.5" text-anchor="middle" fill="#242424">0</text>
<text transform="translate(419.48,119.15) scale(0.85,1)" font-size="8.5" text-anchor="middle" fill="#242424">0</text>
<text transform="translate(431.90,119.15) scale(0.85,1)" font-size="8.5" text-anchor="middle" fill="#242424">0</text>
<text transform="translate(84.25,129.70) scale(0.85,1)" font-size="8.5" text-anchor="middle" fill="#242424">21</text>
<text transform="translate(96.66,129.70) scale(0.85,1)" font-size="8.5" text-anchor="middle" fill="#242424">2</text>
<text transform="translate(109.08,129.70) scale(0.85,1)" font-size="8.5" text-anchor="middle" fill="#242424">0</text>
<text transform="translate(121.50,129.70) scale(0.85,1)" font-size="8.5" text-anchor="middle" fill="#242424">0</text>
<text transform="translate(133.91,129.70) scale(0.85,1)" font-size="8.5" text-anchor="middle" fill="#242424">19</text>
<text transform="translate(146.33,129.70) scale(0.85,1)" font-size="8.5" text-anchor="middle" fill="#242424">5</text>
<text transform="translate(158.74,129.70) scale(0.85,1)" font-size="8.5" text-anchor="middle" fill="#242424">0</text>
<text transform="translate(171.16,129.70) scale(0.85,1)" font-size="8.5" text-anchor="middle" fill="#ffffff">1</text>
<text transform="translate(183.58,129.70) scale(0.85,1)" font-size="8.5" text-anchor="middle" fill="#242424">0</text>
<text transform="translate(195.99,129.70) scale(0.85,1)" font-size="8.5" text-anchor="middle" fill="#242424">0</text>
<text transform="translate(208.41,129.70) scale(0.85,1)" font-size="8.5" text-anchor="middle" fill="#242424">0</text>
<text transform="translate(220.82,129.70) scale(0.85,1)" font-size="8.5" text-anchor="middle" fill="#242424">0</text>
<text transform="translate(233.24,129.70) scale(0.85,1)" font-size="8.5" text-anchor="middle" fill="#242424">1</text>
<text transform="translate(245.66,129.70) scale(0.85,1)" font-size="8.5" text-anchor="middle" fill="#242424">0</text>
<text transform="translate(258.07,129.70) scale(0.85,1)" font-size="8.5" text-anchor="middle" fill="#242424">0</text>
<text transform="translate(270.49,129.70) scale(0.85,1)" font-size="8.5" text-anchor="middle" fill="#242424">7</text>
<text transform="translate(282.90,129.70) scale(0.85,1)" font-size="8.5" text-anchor="middle" fill="#242424">0</text>
<text transform="translate(295.32,129.70) scale(0.85,1)" font-size="8.5" text-anchor="middle" fill="#242424">0</text>
<text transform="translate(307.74,129.70) scale(0.85,1)" font-size="8.5" text-anchor="middle" fill="#242424">0</text>
<text transform="translate(320.15,129.70) scale(0.85,1)" font-size="8.5" text-anchor="middle" fill="#242424">1</text>
<text transform="translate(332.57,129.70) scale(0.85,1)" font-size="8.5" text-anchor="middle" fill="#242424">0</text>
<text transform="translate(344.98,129.70) scale(0.85,1)" font-size="8.5" text-anchor="middle" fill="#242424">4</text>
<text transform="translate(357.40,129.70) scale(0.85,1)" font-size="8.5" text-anchor="middle" fill="#242424">1</text>
<text transform="translate(369.82,129.70) scale(0.85,1)" font-size="8.5" text-anchor="middle" fill="#242424">3</text>
<text transform="translate(382.23,129.70) scale(0.85,1)" font-size="8.5" text-anchor="middle" fill="#242424">0</text>
<text transform="translate(394.65,129.70) scale(0.85,1)" font-size="8.5" text-anchor="middle" fill="#242424">0</text>
<text transform="translate(407.06,129.70) scale(0.85,1)" font-size="8.5" text-anchor="middle" fill="#242424">1</text>
<text transform="translate(419.48,129.70) scale(0.85,1)" font-size="8.5" text-anchor="middle" fill="#242424">0</text>
<text transform="translate(431.90,129.70) scale(0.85,1)" font-size="8.5" text-anchor="middle" fill="#242424">1</text>
<text transform="translate(96.66,139.95) scale(0.85,1)" font-size="8.5" text-anchor="middle" fill="#242424">10</text>
<text transform="translate(109.08,139.95) scale(0.85,1)" font-size="8.5" text-anchor="middle" fill="#242424">0</text>
<text transform="translate(121.50,139.95) scale(0.85,1)" font-size="8.5" text-anchor="middle" fill="#242424">0</text>
<text transform="translate(133.91,139.95) scale(0.85,1)" font-size="8.5" text-anchor="middle" fill="#242424">9</text>
<text transform="translate(146.33,139.95) scale(0.85,1)" font-size="8.5" text-anchor="middle" fill="#242424">3</text>
<text transform="translate(158.74,139.95) scale(0.85,1)" font-size="8.5" text-anchor="middle" fill="#242424">1</text>
<text transform="translate(171.16,139.95) scale(0.85,1)" font-size="8.5" text-anchor="middle" fill="#242424">1</text>
<text transform="translate(183.58,139.95) scale(0.85,1)" font-size="8.5" text-anchor="middle" fill="#242424">1</text>
<text transform="translate(195.99,139.95) scale(0.85,1)" font-size="8.5" text-anchor="middle" fill="#242424">0</text>
<text transform="translate(208.41,139.95) scale(0.85,1)" font-size="8.5" text-anchor="middle" fill="#242424">0</text>
<text transform="translate(220.82,139.95) scale(0.85,1)" font-size="8.5" text-anchor="middle" fill="#242424">0</text>
<text transform="translate(233.24,139.95) scale(0.85,1)" font-size="8.5" text-anchor="middle" fill="#242424">0</text>
<text transform="translate(245.66,139.95) scale(0.85,1)" font-size="8.5" text-anchor="middle" fill="#242424">0</text>
<text transform="translate(258.07,139.95) scale(0.85,1)" font-size="8.5" text-anchor="middle" fill="#242424">0</text>
<text transform="translate(270.49,139.95) scale(0.85,1)" font-size="8.5" text-anchor="middle" fill="#242424">2</text>
<text transform="translate(282.90,139.95) scale(0.85,1)" font-size="8.5" text-anchor="middle" fill="#242424">0</text>
<text transform="translate(295.32,139.95) scale(0.85,1)" font-size="8.5" text-anchor="middle" fill="#242424">1</text>
<text transform="translate(307.74,139.95) scale(0.85,1)" font-size="8.5" text-anchor="middle" fill="#242424">0</text>
<text transform="translate(320.15,139.95) scale(0.85,1)" font-size="8.5" text-anchor="middle" fill="#242424">0</text>
<text transform="translate(332.57,139.95) scale(0.85,1)" font-size="8.5" text-anchor="middle" fill="#242424">0</text>
<text transform="translate(344.98,139.95) scale(0.85,1)" font-size="8.5" text-anchor="middle" fill="#242424">0</text>
<text transform="translate(357.40,139.95) scale(0.85,1)" font-size="8.5" text-anchor="middle" fill="#242424">1</text>
<text transform="translate(369.82,139.95) scale(0.85,1)" font-size="8.5" text-anchor="middle" fill="#242424">1</text>
<text transform="translate(382.23,139.95) scale(0.85,1)" font-size="8.5" text-anchor="middle" fill="#242424">0</text>
<text transform="translate(394.65,139.95) scale(0.85,1)" font-size="8.5" text-anchor="middle" fill="#242424">0</text>
<text transform="translate(407.06,139.95) scale(0.85,1)" font-size="8.5" text-anchor="middle" fill="#242424">0</text>
<text transform="translate(419.48,139.95) scale(0.85,1)" font-size="8.5" text-anchor="middle" fill="#242424">0</text>
<text transform="translate(431.90,139.95) scale(0.85,1)" font-size="8.5" text-anchor="middle" fill="#242424">0</text>
<text transform="translate(109.08,150.45) scale(0.85,1)" font-size="8.5" text-anchor="middle" fill="#242424">14</text>
<text transform="translate(121.50,150.45) scale(0.85,1)" font-size="8.5" text-anchor="middle" fill="#242424">0</text>
<text transform="translate(133.91,150.45) scale(0.85,1)" font-size="8.5" text-anchor="middle" fill="#242424">11</text>
<text transform="translate(146.33,150.45) scale(0.85,1)" font-size="8.5" text-anchor="middle" fill="#242424">3</text>
<text transform="translate(158.74,150.45) scale(0.85,1)" font-size="8.5" text-anchor="middle" fill="#242424">2</text>
<text transform="translate(171.16,150.45) scale(0.85,1)" font-size="8.5" text-anchor="middle" fill="#242424">0</text>
<text transform="translate(183.58,150.45) scale(0.85,1)" font-size="8.5" text-anchor="middle" fill="#242424">0</text>
<text transform="translate(195.99,150.45) scale(0.85,1)" font-size="8.5" text-anchor="middle" fill="#242424">1</text>
<text transform="translate(208.41,150.45) scale(0.85,1)" font-size="8.5" text-anchor="middle" fill="#242424">1</text>
<text transform="translate(220.82,150.45) scale(0.85,1)" font-size="8.5" text-anchor="middle" fill="#242424">2</text>
<text transform="translate(233.24,150.45) scale(0.85,1)" font-size="8.5" text-anchor="middle" fill="#242424">1</text>
<text transform="translate(245.66,150.45) scale(0.85,1)" font-size="8.5" text-anchor="middle" fill="#242424">1</text>
<text transform="translate(258.07,150.45) scale(0.85,1)" font-size="8.5" text-anchor="middle" fill="#242424">1</text>
<text transform="translate(270.49,150.45) scale(0.85,1)" font-size="8.5" text-anchor="middle" fill="#242424">2</text>
<text transform="translate(282.90,150.45) scale(0.85,1)" font-size="8.5" text-anchor="middle" fill="#242424">1</text>
<text transform="translate(295.32,150.45) scale(0.85,1)" font-size="8.5" text-anchor="middle" fill="#242424">2</text>
<text transform="translate(307.74,150.45) scale(0.85,1)" font-size="8.5" text-anchor="middle" fill="#242424">1</text>
<text transform="translate(320.15,150.45) scale(0.85,1)" font-size="8.5" text-anchor="middle" fill="#242424">1</text>
<text transform="translate(332.57,150.45) scale(0.85,1)" font-size="8.5" text-anchor="middle" fill="#242424">1</text>
<text transform="translate(344.98,150.45) scale(0.85,1)" font-size="8.5" text-anchor="middle" fill="#242424">1</text>
<text transform="translate(357.40,150.45) scale(0.85,1)" font-size="8.5" text-anchor="middle" fill="#242424">0</text>
<text transform="translate(369.82,150.45) scale(0.85,1)" font-size="8.5" text-anchor="middle" fill="#242424">1</text>
<text transform="translate(382.23,150.45) scale(0.85,1)" font-size="8.5" text-anchor="middle" fill="#242424">0</text>
<text transform="translate(394.65,150.45) scale(0.85,1)" font-size="8.5" text-anchor="middle" fill="#242424">0</text>
<text transform="translate(407.06,150.45) scale(0.85,1)" font-size="8.5" text-anchor="middle" fill="#242424">1</text>
<text transform="translate(419.48,150.45) scale(0.85,1)" font-size="8.5" text-anchor="middle" fill="#242424">0</text>
<text transform="translate(431.90,150.45) scale(0.85,1)" font-size="8.5" text-anchor="middle" fill="#242424">2</text>
<text transform="translate(121.50,160.80) scale(0.85,1)" font-size="8.5" text-anchor="middle" fill="#242424">13</text>
<text transform="translate(133.91,160.80) scale(0.85,1)" font-size="8.5" text-anchor="middle" fill="#242424">8</text>
<text transform="translate(146.33,160.80) scale(0.85,1)" font-size="8.5" text-anchor="middle" fill="#242424">3</text>
<text transform="translate(158.74,160.80) scale(0.85,1)" font-size="8.5" text-anchor="middle" fill="#242424">2</text>
<text transform="translate(171.16,160.80) scale(0.85,1)" font-size="8.5" text-anchor="middle" fill="#242424">0</text>
<text transform="translate(183.58,160.80) scale(0.85,1)" font-size="8.5" text-anchor="middle" fill="#242424">0</text>
<text transform="translate(195.99,160.80) scale(0.85,1)" font-size="8.5" text-anchor="middle" fill="#242424">0</text>
<text transform="translate(208.41,160.80) scale(0.85,1)" font-size="8.5" text-anchor="middle" fill="#242424">1</text>
<text transform="translate(220.82,160.80) scale(0.85,1)" font-size="8.5" text-anchor="middle" fill="#242424">1</text>
<text transform="translate(233.24,160.80) scale(0.85,1)" font-size="8.5" text-anchor="middle" fill="#242424">1</text>
<text transform="translate(245.66,160.80) scale(0.85,1)" font-size="8.5" text-anchor="middle" fill="#242424">1</text>
<text transform="translate(258.07,160.80) scale(0.85,1)" font-size="8.5" text-anchor="middle" fill="#242424">1</text>
<text transform="translate(270.49,160.80) scale(0.85,1)" font-size="8.5" text-anchor="middle" fill="#242424">3</text>
<text transform="translate(282.90,160.80) scale(0.85,1)" font-size="8.5" text-anchor="middle" fill="#242424">2</text>
<text transform="translate(295.32,160.80) scale(0.85,1)" font-size="8.5" text-anchor="middle" fill="#242424">0</text>
<text transform="translate(307.74,160.80) scale(0.85,1)" font-size="8.5" text-anchor="middle" fill="#242424">2</text>
<text transform="translate(320.15,160.80) scale(0.85,1)" font-size="8.5" text-anchor="middle" fill="#242424">1</text>
<text transform="translate(332.57,160.80) scale(0.85,1)" font-size="8.5" text-anchor="middle" fill="#242424">1</text>
<text transform="translate(344.98,160.80) scale(0.85,1)" font-size="8.5" text-anchor="middle" fill="#242424">1</text>
<text transform="translate(357.40,160.80) scale(0.85,1)" font-size="8.5" text-anchor="middle" fill="#242424">3</text>
<text transform="translate(369.82,160.80) scale(0.85,1)" font-size="8.5" text-anchor="middle" fill="#242424">0</text>
<text transform="translate(382.23,160.80) scale(0.85,1)" font-size="8.5" text-anchor="middle" fill="#242424">1</text>
<text transform="translate(394.65,160.80) scale(0.85,1)" font-size="8.5" text-anchor="middle" fill="#242424">2</text>
<text transform="translate(407.06,160.80) scale(0.85,1)" font-size="8.5" text-anchor="middle" fill="#242424">0</text>
<text transform="translate(419.48,160.80) scale(0.85,1)" font-size="8.5" text-anchor="middle" fill="#242424">0</text>
<text transform="translate(431.90,160.80) scale(0.85,1)" font-size="8.5" text-anchor="middle" fill="#242424">0</text>
<text transform="translate(133.91,171.03) scale(0.85,1)" font-size="8.5" text-anchor="middle" fill="#242424">223</text>
<text transform="translate(146.33,171.03) scale(0.85,1)" font-size="8.5" text-anchor="middle" fill="#ffffff">78</text>
<text transform="translate(158.74,171.03) scale(0.85,1)" font-size="8.5" text-anchor="middle" fill="#242424">10</text>
<text transform="translate(171.16,171.03) scale(0.85,1)" font-size="8.5" text-anchor="middle" fill="#ffffff">0</text>
<text transform="translate(183.58,171.03) scale(0.85,1)" font-size="8.5" text-anchor="middle" fill="#242424">11</text>
<text transform="translate(195.99,171.03) scale(0.85,1)" font-size="8.5" text-anchor="middle" fill="#242424">6</text>
<text transform="translate(208.41,171.03) scale(0.85,1)" font-size="8.5" text-anchor="middle" fill="#242424">4</text>
<text transform="translate(220.82,171.03) scale(0.85,1)" font-size="8.5" text-anchor="middle" fill="#242424">10</text>
<text transform="translate(233.24,171.03) scale(0.85,1)" font-size="8.5" text-anchor="middle" fill="#242424">16</text>
<text transform="translate(245.66,171.03) scale(0.85,1)" font-size="8.5" text-anchor="middle" fill="#242424">3</text>
<text transform="translate(258.07,171.03) scale(0.85,1)" font-size="8.5" text-anchor="middle" fill="#242424">3</text>
<text transform="translate(270.49,171.03) scale(0.85,1)" font-size="8.5" text-anchor="middle" fill="#242424">34</text>
<text transform="translate(282.90,171.03) scale(0.85,1)" font-size="8.5" text-anchor="middle" fill="#242424">10</text>
<text transform="translate(295.32,171.03) scale(0.85,1)" font-size="8.5" text-anchor="middle" fill="#242424">7</text>
<text transform="translate(307.74,171.03) scale(0.85,1)" font-size="8.5" text-anchor="middle" fill="#242424">13</text>
<text transform="translate(320.15,171.03) scale(0.85,1)" font-size="8.5" text-anchor="middle" fill="#242424">10</text>
<text transform="translate(332.57,171.03) scale(0.85,1)" font-size="8.5" text-anchor="middle" fill="#ffffff">4</text>
<text transform="translate(344.98,171.03) scale(0.85,1)" font-size="8.5" text-anchor="middle" fill="#242424">23</text>
<text transform="translate(357.40,171.03) scale(0.85,1)" font-size="8.5" text-anchor="middle" fill="#242424">10</text>
<text transform="translate(369.82,171.03) scale(0.85,1)" font-size="8.5" text-anchor="middle" fill="#242424">16</text>
<text transform="translate(382.23,171.03) scale(0.85,1)" font-size="8.5" text-anchor="middle" fill="#242424">8</text>
<text transform="translate(394.65,171.03) scale(0.85,1)" font-size="8.5" text-anchor="middle" fill="#242424">2</text>
<text transform="translate(407.06,171.03) scale(0.85,1)" font-size="8.5" text-anchor="middle" fill="#242424">6</text>
<text transform="translate(419.48,171.03) scale(0.85,1)" font-size="8.5" text-anchor="middle" fill="#242424">6</text>
<text transform="translate(431.90,171.03) scale(0.85,1)" font-size="8.5" text-anchor="middle" fill="#242424">4</text>
<text transform="translate(146.33,181.57) scale(0.85,1)" font-size="8.5" text-anchor="middle" fill="#242424">89</text>
<text transform="translate(158.74,181.57) scale(0.85,1)" font-size="8.5" text-anchor="middle" fill="#242424">3</text>
<text transform="translate(171.16,181.57) scale(0.85,1)" font-size="8.5" text-anchor="middle" fill="#242424">0</text>
<text transform="translate(183.58,181.57) scale(0.85,1)" font-size="8.5" text-anchor="middle" fill="#242424">7</text>
<text transform="translate(195.99,181.57) scale(0.85,1)" font-size="8.5" text-anchor="middle" fill="#242424">3</text>
<text transform="translate(208.41,181.57) scale(0.85,1)" font-size="8.5" text-anchor="middle" fill="#242424">1</text>
<text transform="translate(220.82,181.57) scale(0.85,1)" font-size="8.5" text-anchor="middle" fill="#242424">2</text>
<text transform="translate(233.24,181.57) scale(0.85,1)" font-size="8.5" text-anchor="middle" fill="#242424">2</text>
<text transform="translate(245.66,181.57) scale(0.85,1)" font-size="8.5" text-anchor="middle" fill="#242424">2</text>
<text transform="translate(258.07,181.57) scale(0.85,1)" font-size="8.5" text-anchor="middle" fill="#242424">2</text>
<text transform="translate(270.49,181.57) scale(0.85,1)" font-size="8.5" text-anchor="middle" fill="#ffffff">4</text>
<text transform="translate(282.90,181.57) scale(0.85,1)" font-size="8.5" text-anchor="middle" fill="#242424">1</text>
<text transform="translate(295.32,181.57) scale(0.85,1)" font-size="8.5" text-anchor="middle" fill="#242424">3</text>
<text transform="translate(307.74,181.57) scale(0.85,1)" font-size="8.5" text-anchor="middle" fill="#ffffff">0</text>
<text transform="translate(320.15,181.57) scale(0.85,1)" font-size="8.5" text-anchor="middle" fill="#242424">3</text>
<text transform="translate(332.57,181.57) scale(0.85,1)" font-size="8.5" text-anchor="middle" fill="#242424">3</text>
<text transform="translate(344.98,181.57) scale(0.85,1)" font-size="8.5" text-anchor="middle" fill="#ffffff">6</text>
<text transform="translate(357.40,181.57) scale(0.85,1)" font-size="8.5" text-anchor="middle" fill="#242424">4</text>
<text transform="translate(369.82,181.57) scale(0.85,1)" font-size="8.5" text-anchor="middle" fill="#242424">4</text>
<text transform="translate(382.23,181.57) scale(0.85,1)" font-size="8.5" text-anchor="middle" fill="#242424">2</text>
<text transform="translate(394.65,181.57) scale(0.85,1)" font-size="8.5" text-anchor="middle" fill="#242424">1</text>
<text transform="translate(407.06,181.57) scale(0.85,1)" font-size="8.5" text-anchor="middle" fill="#242424">0</text>
<text transform="translate(419.48,181.57) scale(0.85,1)" font-size="8.5" text-anchor="middle" fill="#242424">2</text>
<text transform="translate(431.90,181.57) scale(0.85,1)" font-size="8.5" text-anchor="middle" fill="#242424">2</text>
<text transform="translate(158.74,192.15) scale(0.85,1)" font-size="8.5" text-anchor="middle" fill="#242424">12</text>
<text transform="translate(171.16,192.15) scale(0.85,1)" font-size="8.5" text-anchor="middle" fill="#242424">1</text>
<text transform="translate(183.58,192.15) scale(0.85,1)" font-size="8.5" text-anchor="middle" fill="#242424">1</text>
<text transform="translate(195.99,192.15) scale(0.85,1)" font-size="8.5" text-anchor="middle" fill="#242424">1</text>
<text transform="translate(208.41,192.15) scale(0.85,1)" font-size="8.5" text-anchor="middle" fill="#ffffff">3</text>
<text transform="translate(220.82,192.15) scale(0.85,1)" font-size="8.5" text-anchor="middle" fill="#242424">2</text>
<text transform="translate(233.24,192.15) scale(0.85,1)" font-size="8.5" text-anchor="middle" fill="#242424">1</text>
<text transform="translate(245.66,192.15) scale(0.85,1)" font-size="8.5" text-anchor="middle" fill="#242424">1</text>
<text transform="translate(258.07,192.15) scale(0.85,1)" font-size="8.5" text-anchor="middle" fill="#242424">1</text>
<text transform="translate(270.49,192.15) scale(0.85,1)" font-size="8.5" text-anchor="middle" fill="#242424">3</text>
<text transform="translate(282.90,192.15) scale(0.85,1)" font-size="8.5" text-anchor="middle" fill="#242424">0</text>
<text transform="translate(295.32,192.15) scale(0.85,1)" font-size="8.5" text-anchor="middle" fill="#242424">0</text>
<text transform="translate(307.74,192.15) scale(0.85,1)" font-size="8.5" text-anchor="middle" fill="#242424">3</text>
<text transform="translate(320.15,192.15) scale(0.85,1)" font-size="8.5" text-anchor="middle" fill="#242424">0</text>
<text transform="translate(332.57,192.15) scale(0.85,1)" font-size="8.5" text-anchor="middle" fill="#242424">1</text>
<text transform="translate(344.98,192.15) scale(0.85,1)" font-size="8.5" text-anchor="middle" fill="#242424">3</text>
<text transform="translate(357.40,192.15) scale(0.85,1)" font-size="8.5" text-anchor="middle" fill="#242424">0</text>
<text transform="translate(369.82,192.15) scale(0.85,1)" font-size="8.5" text-anchor="middle" fill="#242424">0</text>
<text transform="translate(382.23,192.15) scale(0.85,1)" font-size="8.5" text-anchor="middle" fill="#242424">0</text>
<text transform="translate(394.65,192.15) scale(0.85,1)" font-size="8.5" text-anchor="middle" fill="#242424">1</text>
<text transform="translate(407.06,192.15) scale(0.85,1)" font-size="8.5" text-anchor="middle" fill="#242424">0</text>
<text transform="translate(419.48,192.15) scale(0.85,1)" font-size="8.5" text-anchor="middle" fill="#242424">0</text>
<text transform="translate(431.90,192.15) scale(0.85,1)" font-size="8.5" text-anchor="middle" fill="#242424">0</text>
<text transform="translate(171.16,201.75) scale(0.85,1)" font-size="8.5" text-anchor="middle" fill="#242424">7</text>
<text transform="translate(183.58,201.75) scale(0.85,1)" font-size="8.5" text-anchor="middle" fill="#242424">0</text>
<text transform="translate(195.99,201.75) scale(0.85,1)" font-size="8.5" text-anchor="middle" fill="#242424">0</text>
<text transform="translate(208.41,201.75) scale(0.85,1)" font-size="8.5" text-anchor="middle" fill="#242424">1</text>
<text transform="translate(220.82,201.75) scale(0.85,1)" font-size="8.5" text-anchor="middle" fill="#242424">0</text>
<text transform="translate(233.24,201.75) scale(0.85,1)" font-size="8.5" text-anchor="middle" fill="#242424">1</text>
<text transform="translate(245.66,201.75) scale(0.85,1)" font-size="8.5" text-anchor="middle" fill="#242424">0</text>
<text transform="translate(258.07,201.75) scale(0.85,1)" font-size="8.5" text-anchor="middle" fill="#242424">0</text>
<text transform="translate(270.49,201.75) scale(0.85,1)" font-size="8.5" text-anchor="middle" fill="#242424">3</text>
<text transform="translate(282.90,201.75) scale(0.85,1)" font-size="8.5" text-anchor="middle" fill="#242424">0</text>
<text transform="translate(295.32,201.75) scale(0.85,1)" font-size="8.5" text-anchor="middle" fill="#242424">1</text>
<text transform="translate(307.74,201.75) scale(0.85,1)" font-size="8.5" text-anchor="middle" fill="#242424">1</text>
<text transform="translate(320.15,201.75) scale(0.85,1)" font-size="8.5" text-anchor="middle" fill="#242424">0</text>
<text transform="translate(332.57,201.75) scale(0.85,1)" font-size="8.5" text-anchor="middle" fill="#242424">1</text>
<text transform="translate(344.98,201.75) scale(0.85,1)" font-size="8.5" text-anchor="middle" fill="#242424">0</text>
<text transform="translate(357.40,201.75) scale(0.85,1)" font-size="8.5" text-anchor="middle" fill="#242424">0</text>
<text transform="translate(369.82,201.75) scale(0.85,1)" font-size="8.5" text-anchor="middle" fill="#242424">0</text>
<text transform="translate(382.23,201.75) scale(0.85,1)" font-size="8.5" text-anchor="middle" fill="#242424">0</text>
<text transform="translate(394.65,201.75) scale(0.85,1)" font-size="8.5" text-anchor="middle" fill="#242424">0</text>
<text transform="translate(407.06,201.75) scale(0.85,1)" font-size="8.5" text-anchor="middle" fill="#242424">1</text>
<text transform="translate(419.48,201.75) scale(0.85,1)" font-size="8.5" text-anchor="middle" fill="#242424">0</text>
<text transform="translate(431.90,201.75) scale(0.85,1)" font-size="8.5" text-anchor="middle" fill="#242424">0</text>
<text transform="translate(183.58,211.55) scale(0.85,1)" font-size="8.5" text-anchor="middle" fill="#242424">13</text>
<text transform="translate(195.99,211.55) scale(0.85,1)" font-size="8.5" text-anchor="middle" fill="#242424">0</text>
<text transform="translate(208.41,211.55) scale(0.85,1)" font-size="8.5" text-anchor="middle" fill="#242424">0</text>
<text transform="translate(220.82,211.55) scale(0.85,1)" font-size="8.5" text-anchor="middle" fill="#242424">0</text>
<text transform="translate(233.24,211.55) scale(0.85,1)" font-size="8.5" text-anchor="middle" fill="#242424">0</text>
<text transform="translate(245.66,211.55) scale(0.85,1)" font-size="8.5" text-anchor="middle" fill="#242424">0</text>
<text transform="translate(258.07,211.55) scale(0.85,1)" font-size="8.5" text-anchor="middle" fill="#242424">0</text>
<text transform="translate(270.49,211.55) scale(0.85,1)" font-size="8.5" text-anchor="middle" fill="#242424">0</text>
<text transform="translate(282.90,211.55) scale(0.85,1)" font-size="8.5" text-anchor="middle" fill="#242424">0</text>
<text transform="translate(295.32,211.55) scale(0.85,1)" font-size="8.5" text-anchor="middle" fill="#242424">0</text>
<text transform="translate(307.74,211.55) scale(0.85,1)" font-size="8.5" text-anchor="middle" fill="#242424">0</text>
<text transform="translate(320.15,211.55) scale(0.85,1)" font-size="8.5" text-anchor="middle" fill="#242424">0</text>
<text transform="translate(332.57,211.55) scale(0.85,1)" font-size="8.5" text-anchor="middle" fill="#242424">0</text>
<text transform="translate(344.98,211.55) scale(0.85,1)" font-size="8.5" text-anchor="middle" fill="#242424">0</text>
<text transform="translate(357.40,211.55) scale(0.85,1)" font-size="8.5" text-anchor="middle" fill="#242424">0</text>
<text transform="translate(369.82,211.55) scale(0.85,1)" font-size="8.5" text-anchor="middle" fill="#242424">0</text>
<text transform="translate(382.23,211.55) scale(0.85,1)" font-size="8.5" text-anchor="middle" fill="#242424">1</text>
<text transform="translate(394.65,211.55) scale(0.85,1)" font-size="8.5" text-anchor="middle" fill="#242424">0</text>
<text transform="translate(407.06,211.55) scale(0.85,1)" font-size="8.5" text-anchor="middle" fill="#242424">1</text>
<text transform="translate(419.48,211.55) scale(0.85,1)" font-size="8.5" text-anchor="middle" fill="#242424">0</text>
<text transform="translate(431.90,211.55) scale(0.85,1)" font-size="8.5" text-anchor="middle" fill="#242424">0</text>
<text transform="translate(195.99,222.15) scale(0.85,1)" font-size="8.5" text-anchor="middle" fill="#242424">7</text>
<text transform="translate(208.41,222.15) scale(0.85,1)" font-size="8.5" text-anchor="middle" fill="#242424">1</text>
<text transform="translate(220.82,222.15) scale(0.85,1)" font-size="8.5" text-anchor="middle" fill="#242424">0</text>
<text transform="translate(233.24,222.15) scale(0.85,1)" font-size="8.5" text-anchor="middle" fill="#242424">1</text>
<text transform="translate(245.66,222.15) scale(0.85,1)" font-size="8.5" text-anchor="middle" fill="#242424">0</text>
<text transform="translate(258.07,222.15) scale(0.85,1)" font-size="8.5" text-anchor="middle" fill="#242424">0</text>
<text transform="translate(270.49,222.15) scale(0.85,1)" font-size="8.5" text-anchor="middle" fill="#242424">1</text>
<text transform="translate(282.90,222.15) scale(0.85,1)" font-size="8.5" text-anchor="middle" fill="#242424">0</text>
<text transform="translate(295.32,222.15) scale(0.85,1)" font-size="8.5" text-anchor="middle" fill="#242424">0</text>
<text transform="translate(307.74,222.15) scale(0.85,1)" font-size="8.5" text-anchor="middle" fill="#242424">0</text>
<text transform="translate(320.15,222.15) scale(0.85,1)" font-size="8.5" text-anchor="middle" fill="#242424">0</text>
<text transform="translate(332.57,222.15) scale(0.85,1)" font-size="8.5" text-anchor="middle" fill="#242424">1</text>
<text transform="translate(344.98,222.15) scale(0.85,1)" font-size="8.5" text-anchor="middle" fill="#242424">0</text>
<text transform="translate(357.40,222.15) scale(0.85,1)" font-size="8.5" text-anchor="middle" fill="#242424">0</text>
<text transform="translate(369.82,222.15) scale(0.85,1)" font-size="8.5" text-anchor="middle" fill="#242424">0</text>
<text transform="translate(382.23,222.15) scale(0.85,1)" font-size="8.5" text-anchor="middle" fill="#242424">1</text>
<text transform="translate(394.65,222.15) scale(0.85,1)" font-size="8.5" text-anchor="middle" fill="#242424">0</text>
<text transform="translate(407.06,222.15) scale(0.85,1)" font-size="8.5" text-anchor="middle" fill="#242424">0</text>
<text transform="translate(419.48,222.15) scale(0.85,1)" font-size="8.5" text-anchor="middle" fill="#242424">0</text>
<text transform="translate(431.90,222.15) scale(0.85,1)" font-size="8.5" text-anchor="middle" fill="#242424">0</text>
<text transform="translate(208.41,232.23) scale(0.85,1)" font-size="8.5" text-anchor="middle" fill="#242424">7</text>
<text transform="translate(220.82,232.23) scale(0.85,1)" font-size="8.5" text-anchor="middle" fill="#242424">1</text>
<text transform="translate(233.24,232.23) scale(0.85,1)" font-size="8.5" text-anchor="middle" fill="#242424">1</text>
<text transform="translate(245.66,232.23) scale(0.85,1)" font-size="8.5" text-anchor="middle" fill="#242424">0</text>
<text transform="translate(258.07,232.23) scale(0.85,1)" font-size="8.5" text-anchor="middle" fill="#242424">0</text>
<text transform="translate(270.49,232.23) scale(0.85,1)" font-size="8.5" text-anchor="middle" fill="#242424">3</text>
<text transform="translate(282.90,232.23) scale(0.85,1)" font-size="8.5" text-anchor="middle" fill="#242424">0</text>
<text transform="translate(295.32,232.23) scale(0.85,1)" font-size="8.5" text-anchor="middle" fill="#242424">1</text>
<text transform="translate(307.74,232.23) scale(0.85,1)" font-size="8.5" text-anchor="middle" fill="#242424">1</text>
<text transform="translate(320.15,232.23) scale(0.85,1)" font-size="8.5" text-anchor="middle" fill="#242424">0</text>
<text transform="translate(332.57,232.23) scale(0.85,1)" font-size="8.5" text-anchor="middle" fill="#242424">1</text>
<text transform="translate(344.98,232.23) scale(0.85,1)" font-size="8.5" text-anchor="middle" fill="#242424">3</text>
<text transform="translate(357.40,232.23) scale(0.85,1)" font-size="8.5" text-anchor="middle" fill="#242424">0</text>
<text transform="translate(369.82,232.23) scale(0.85,1)" font-size="8.5" text-anchor="middle" fill="#242424">0</text>
<text transform="translate(382.23,232.23) scale(0.85,1)" font-size="8.5" text-anchor="middle" fill="#242424">0</text>
<text transform="translate(394.65,232.23) scale(0.85,1)" font-size="8.5" text-anchor="middle" fill="#242424">0</text>
<text transform="translate(407.06,232.23) scale(0.85,1)" font-size="8.5" text-anchor="middle" fill="#242424">0</text>
<text transform="translate(419.48,232.23) scale(0.85,1)" font-size="8.5" text-anchor="middle" fill="#242424">1</text>
<text transform="translate(431.90,232.23) scale(0.85,1)" font-size="8.5" text-anchor="middle" fill="#242424">0</text>
<text transform="translate(220.82,242.43) scale(0.85,1)" font-size="8.5" text-anchor="middle" fill="#242424">15</text>
<text transform="translate(233.24,242.43) scale(0.85,1)" font-size="8.5" text-anchor="middle" fill="#242424">2</text>
<text transform="translate(245.66,242.43) scale(0.85,1)" font-size="8.5" text-anchor="middle" fill="#242424">2</text>
<text transform="translate(258.07,242.43) scale(0.85,1)" font-size="8.5" text-anchor="middle" fill="#ffffff">2</text>
<text transform="translate(270.49,242.43) scale(0.85,1)" font-size="8.5" text-anchor="middle" fill="#242424">2</text>
<text transform="translate(282.90,242.43) scale(0.85,1)" font-size="8.5" text-anchor="middle" fill="#242424">0</text>
<text transform="translate(295.32,242.43) scale(0.85,1)" font-size="8.5" text-anchor="middle" fill="#242424">1</text>
<text transform="translate(307.74,242.43) scale(0.85,1)" font-size="8.5" text-anchor="middle" fill="#ffffff">5</text>
<text transform="translate(320.15,242.43) scale(0.85,1)" font-size="8.5" text-anchor="middle" fill="#242424">0</text>
<text transform="translate(332.57,242.43) scale(0.85,1)" font-size="8.5" text-anchor="middle" fill="#242424">1</text>
<text transform="translate(344.98,242.43) scale(0.85,1)" font-size="8.5" text-anchor="middle" fill="#242424">2</text>
<text transform="translate(357.40,242.43) scale(0.85,1)" font-size="8.5" text-anchor="middle" fill="#242424">1</text>
<text transform="translate(369.82,242.43) scale(0.85,1)" font-size="8.5" text-anchor="middle" fill="#242424">2</text>
<text transform="translate(382.23,242.43) scale(0.85,1)" font-size="8.5" text-anchor="middle" fill="#242424">0</text>
<text transform="translate(394.65,242.43) scale(0.85,1)" font-size="8.5" text-anchor="middle" fill="#242424">0</text>
<text transform="translate(407.06,242.43) scale(0.85,1)" font-size="8.5" text-anchor="middle" fill="#242424">0</text>
<text transform="translate(419.48,242.43) scale(0.85,1)" font-size="8.5" text-anchor="middle" fill="#242424">0</text>
<text transform="translate(431.90,242.43) scale(0.85,1)" font-size="8.5" text-anchor="middle" fill="#242424">2</text>
<text transform="translate(233.24,253.12) scale(0.85,1)" font-size="8.5" text-anchor="middle" fill="#242424">30</text>
<text transform="translate(245.66,253.12) scale(0.85,1)" font-size="8.5" text-anchor="middle" fill="#242424">1</text>
<text transform="translate(258.07,253.12) scale(0.85,1)" font-size="8.5" text-anchor="middle" fill="#242424">2</text>
<text transform="translate(270.49,253.12) scale(0.85,1)" font-size="8.5" text-anchor="middle" fill="#242424">6</text>
<text transform="translate(282.90,253.12) scale(0.85,1)" font-size="8.5" text-anchor="middle" fill="#242424">3</text>
<text transform="translate(295.32,253.12) scale(0.85,1)" font-size="8.5" text-anchor="middle" fill="#242424">4</text>
<text transform="translate(307.74,253.12) scale(0.85,1)" font-size="8.5" text-anchor="middle" fill="#242424">5</text>
<text transform="translate(320.15,253.12) scale(0.85,1)" font-size="8.5" text-anchor="middle" fill="#ffffff">7</text>
<text transform="translate(332.57,253.12) scale(0.85,1)" font-size="8.5" text-anchor="middle" fill="#242424">5</text>
<text transform="translate(344.98,253.12) scale(0.85,1)" font-size="8.5" text-anchor="middle" fill="#242424">4</text>
<text transform="translate(357.40,253.12) scale(0.85,1)" font-size="8.5" text-anchor="middle" fill="#242424">3</text>
<text transform="translate(369.82,253.12) scale(0.85,1)" font-size="8.5" text-anchor="middle" fill="#242424">2</text>
<text transform="translate(382.23,253.12) scale(0.85,1)" font-size="8.5" text-anchor="middle" fill="#242424">1</text>
<text transform="translate(394.65,253.12) scale(0.85,1)" font-size="8.5" text-anchor="middle" fill="#242424">1</text>
<text transform="translate(407.06,253.12) scale(0.85,1)" font-size="8.5" text-anchor="middle" fill="#242424">1</text>
<text transform="translate(419.48,253.12) scale(0.85,1)" font-size="8.5" text-anchor="middle" fill="#242424">0</text>
<text transform="translate(431.90,253.12) scale(0.85,1)" font-size="8.5" text-anchor="middle" fill="#ffffff">3</text>
<text transform="translate(245.66,263.73) scale(0.85,1)" font-size="8.5" text-anchor="middle" fill="#242424">6</text>
<text transform="translate(258.07,263.73) scale(0.85,1)" font-size="8.5" text-anchor="middle" fill="#242424">1</text>
<text transform="translate(270.49,263.73) scale(0.85,1)" font-size="8.5" text-anchor="middle" fill="#242424">1</text>
<text transform="translate(282.90,263.73) scale(0.85,1)" font-size="8.5" text-anchor="middle" fill="#242424">0</text>
<text transform="translate(295.32,263.73) scale(0.85,1)" font-size="8.5" text-anchor="middle" fill="#242424">0</text>
<text transform="translate(307.74,263.73) scale(0.85,1)" font-size="8.5" text-anchor="middle" fill="#242424">1</text>
<text transform="translate(320.15,263.73) scale(0.85,1)" font-size="8.5" text-anchor="middle" fill="#242424">0</text>
<text transform="translate(332.57,263.73) scale(0.85,1)" font-size="8.5" text-anchor="middle" fill="#242424">1</text>
<text transform="translate(344.98,263.73) scale(0.85,1)" font-size="8.5" text-anchor="middle" fill="#242424">1</text>
<text transform="translate(357.40,263.73) scale(0.85,1)" font-size="8.5" text-anchor="middle" fill="#242424">1</text>
<text transform="translate(369.82,263.73) scale(0.85,1)" font-size="8.5" text-anchor="middle" fill="#242424">1</text>
<text transform="translate(382.23,263.73) scale(0.85,1)" font-size="8.5" text-anchor="middle" fill="#242424">0</text>
<text transform="translate(394.65,263.73) scale(0.85,1)" font-size="8.5" text-anchor="middle" fill="#242424">1</text>
<text transform="translate(407.06,263.73) scale(0.85,1)" font-size="8.5" text-anchor="middle" fill="#242424">0</text>
<text transform="translate(419.48,263.73) scale(0.85,1)" font-size="8.5" text-anchor="middle" fill="#242424">0</text>
<text transform="translate(431.90,263.73) scale(0.85,1)" font-size="8.5" text-anchor="middle" fill="#242424">1</text>
<text transform="translate(258.07,274.30) scale(0.85,1)" font-size="8.5" text-anchor="middle" fill="#242424">5</text>
<text transform="translate(270.49,274.30) scale(0.85,1)" font-size="8.5" text-anchor="middle" fill="#242424">1</text>
<text transform="translate(282.90,274.30) scale(0.85,1)" font-size="8.5" text-anchor="middle" fill="#242424">0</text>
<text transform="translate(295.32,274.30) scale(0.85,1)" font-size="8.5" text-anchor="middle" fill="#242424">0</text>
<text transform="translate(307.74,274.30) scale(0.85,1)" font-size="8.5" text-anchor="middle" fill="#242424">1</text>
<text transform="translate(320.15,274.30) scale(0.85,1)" font-size="8.5" text-anchor="middle" fill="#242424">0</text>
<text transform="translate(332.57,274.30) scale(0.85,1)" font-size="8.5" text-anchor="middle" fill="#242424">1</text>
<text transform="translate(344.98,274.30) scale(0.85,1)" font-size="8.5" text-anchor="middle" fill="#242424">1</text>
<text transform="translate(357.40,274.30) scale(0.85,1)" font-size="8.5" text-anchor="middle" fill="#242424">1</text>
<text transform="translate(369.82,274.30) scale(0.85,1)" font-size="8.5" text-anchor="middle" fill="#242424">1</text>
<text transform="translate(382.23,274.30) scale(0.85,1)" font-size="8.5" text-anchor="middle" fill="#242424">0</text>
<text transform="translate(394.65,274.30) scale(0.85,1)" font-size="8.5" text-anchor="middle" fill="#242424">1</text>
<text transform="translate(407.06,274.30) scale(0.85,1)" font-size="8.5" text-anchor="middle" fill="#242424">0</text>
<text transform="translate(419.48,274.30) scale(0.85,1)" font-size="8.5" text-anchor="middle" fill="#242424">0</text>
<text transform="translate(431.90,274.30) scale(0.85,1)" font-size="8.5" text-anchor="middle" fill="#242424">1</text>
<text transform="translate(270.49,284.93) scale(0.85,1)" font-size="8.5" text-anchor="middle" fill="#242424">45</text>
<text transform="translate(282.90,284.93) scale(0.85,1)" font-size="8.5" text-anchor="middle" fill="#242424">4</text>
<text transform="translate(295.32,284.93) scale(0.85,1)" font-size="8.5" text-anchor="middle" fill="#242424">4</text>
<text transform="translate(307.74,284.93) scale(0.85,1)" font-size="8.5" text-anchor="middle" fill="#242424">3</text>
<text transform="translate(320.15,284.93) scale(0.85,1)" font-size="8.5" text-anchor="middle" fill="#242424">3</text>
<text transform="translate(332.57,284.93) scale(0.85,1)" font-size="8.5" text-anchor="middle" fill="#242424">7</text>
<text transform="translate(344.98,284.93) scale(0.85,1)" font-size="8.5" text-anchor="middle" fill="#ffffff">14</text>
<text transform="translate(357.40,284.93) scale(0.85,1)" font-size="8.5" text-anchor="middle" fill="#242424">3</text>
<text transform="translate(369.82,284.93) scale(0.85,1)" font-size="8.5" text-anchor="middle" fill="#242424">0</text>
<text transform="translate(382.23,284.93) scale(0.85,1)" font-size="8.5" text-anchor="middle" fill="#242424">4</text>
<text transform="translate(394.65,284.93) scale(0.85,1)" font-size="8.5" text-anchor="middle" fill="#242424">0</text>
<text transform="translate(407.06,284.93) scale(0.85,1)" font-size="8.5" text-anchor="middle" fill="#242424">1</text>
<text transform="translate(419.48,284.93) scale(0.85,1)" font-size="8.5" text-anchor="middle" fill="#242424">1</text>
<text transform="translate(431.90,284.93) scale(0.85,1)" font-size="8.5" text-anchor="middle" fill="#242424">2</text>
<text transform="translate(282.90,295.53) scale(0.85,1)" font-size="8.5" text-anchor="middle" fill="#242424">12</text>
<text transform="translate(295.32,295.53) scale(0.85,1)" font-size="8.5" text-anchor="middle" fill="#242424">0</text>
<text transform="translate(307.74,295.53) scale(0.85,1)" font-size="8.5" text-anchor="middle" fill="#242424">0</text>
<text transform="translate(320.15,295.53) scale(0.85,1)" font-size="8.5" text-anchor="middle" fill="#242424">0</text>
<text transform="translate(332.57,295.53) scale(0.85,1)" font-size="8.5" text-anchor="middle" fill="#242424">2</text>
<text transform="translate(344.98,295.53) scale(0.85,1)" font-size="8.5" text-anchor="middle" fill="#242424">0</text>
<text transform="translate(357.40,295.53) scale(0.85,1)" font-size="8.5" text-anchor="middle" fill="#242424">2</text>
<text transform="translate(369.82,295.53) scale(0.85,1)" font-size="8.5" text-anchor="middle" fill="#242424">3</text>
<text transform="translate(382.23,295.53) scale(0.85,1)" font-size="8.5" text-anchor="middle" fill="#242424">1</text>
<text transform="translate(394.65,295.53) scale(0.85,1)" font-size="8.5" text-anchor="middle" fill="#242424">0</text>
<text transform="translate(407.06,295.53) scale(0.85,1)" font-size="8.5" text-anchor="middle" fill="#242424">0</text>
<text transform="translate(419.48,295.53) scale(0.85,1)" font-size="8.5" text-anchor="middle" fill="#242424">0</text>
<text transform="translate(431.90,295.53) scale(0.85,1)" font-size="8.5" text-anchor="middle" fill="#242424">0</text>
<text transform="translate(295.32,306.35) scale(0.85,1)" font-size="8.5" text-anchor="middle" fill="#242424">15</text>
<text transform="translate(307.74,306.35) scale(0.85,1)" font-size="8.5" text-anchor="middle" fill="#242424">1</text>
<text transform="translate(320.15,306.35) scale(0.85,1)" font-size="8.5" text-anchor="middle" fill="#242424">2</text>
<text transform="translate(332.57,306.35) scale(0.85,1)" font-size="8.5" text-anchor="middle" fill="#242424">3</text>
<text transform="translate(344.98,306.35) scale(0.85,1)" font-size="8.5" text-anchor="middle" fill="#242424">2</text>
<text transform="translate(357.40,306.35) scale(0.85,1)" font-size="8.5" text-anchor="middle" fill="#242424">1</text>
<text transform="translate(369.82,306.35) scale(0.85,1)" font-size="8.5" text-anchor="middle" fill="#242424">0</text>
<text transform="translate(382.23,306.35) scale(0.85,1)" font-size="8.5" text-anchor="middle" fill="#242424">1</text>
<text transform="translate(394.65,306.35) scale(0.85,1)" font-size="8.5" text-anchor="middle" fill="#242424">1</text>
<text transform="translate(407.06,306.35) scale(0.85,1)" font-size="8.5" text-anchor="middle" fill="#242424">0</text>
<text transform="translate(419.48,306.35) scale(0.85,1)" font-size="8.5" text-anchor="middle" fill="#242424">1</text>
<text transform="translate(431.90,306.35) scale(0.85,1)" font-size="8.5" text-anchor="middle" fill="#242424">2</text>
<text transform="translate(307.74,317.20) scale(0.85,1)" font-size="8.5" text-anchor="middle" fill="#242424">20</text>
<text transform="translate(320.15,317.20) scale(0.85,1)" font-size="8.5" text-anchor="middle" fill="#242424">2</text>
<text transform="translate(332.57,317.20) scale(0.85,1)" font-size="8.5" text-anchor="middle" fill="#242424">2</text>
<text transform="translate(344.98,317.20) scale(0.85,1)" font-size="8.5" text-anchor="middle" fill="#242424">1</text>
<text transform="translate(357.40,317.20) scale(0.85,1)" font-size="8.5" text-anchor="middle" fill="#242424">1</text>
<text transform="translate(369.82,317.20) scale(0.85,1)" font-size="8.5" text-anchor="middle" fill="#ffffff">4</text>
<text transform="translate(382.23,317.20) scale(0.85,1)" font-size="8.5" text-anchor="middle" fill="#242424">0</text>
<text transform="translate(394.65,317.20) scale(0.85,1)" font-size="8.5" text-anchor="middle" fill="#242424">0</text>
<text transform="translate(407.06,317.20) scale(0.85,1)" font-size="8.5" text-anchor="middle" fill="#242424">1</text>
<text transform="translate(419.48,317.20) scale(0.85,1)" font-size="8.5" text-anchor="middle" fill="#ffffff">3</text>
<text transform="translate(431.90,317.20) scale(0.85,1)" font-size="8.5" text-anchor="middle" fill="#242424">2</text>
<text transform="translate(320.15,327.90) scale(0.85,1)" font-size="8.5" text-anchor="middle" fill="#242424">13</text>
<text transform="translate(332.57,327.90) scale(0.85,1)" font-size="8.5" text-anchor="middle" fill="#242424">1</text>
<text transform="translate(344.98,327.90) scale(0.85,1)" font-size="8.5" text-anchor="middle" fill="#242424">1</text>
<text transform="translate(357.40,327.90) scale(0.85,1)" font-size="8.5" text-anchor="middle" fill="#242424">0</text>
<text transform="translate(369.82,327.90) scale(0.85,1)" font-size="8.5" text-anchor="middle" fill="#242424">0</text>
<text transform="translate(382.23,327.90) scale(0.85,1)" font-size="8.5" text-anchor="middle" fill="#242424">2</text>
<text transform="translate(394.65,327.90) scale(0.85,1)" font-size="8.5" text-anchor="middle" fill="#242424">0</text>
<text transform="translate(407.06,327.90) scale(0.85,1)" font-size="8.5" text-anchor="middle" fill="#242424">0</text>
<text transform="translate(419.48,327.90) scale(0.85,1)" font-size="8.5" text-anchor="middle" fill="#242424">0</text>
<text transform="translate(431.90,327.90) scale(0.85,1)" font-size="8.5" text-anchor="middle" fill="#242424">1</text>
<text transform="translate(332.57,338.55) scale(0.85,1)" font-size="8.5" text-anchor="middle" fill="#242424">24</text>
<text transform="translate(344.98,338.55) scale(0.85,1)" font-size="8.5" text-anchor="middle" fill="#242424">3</text>
<text transform="translate(357.40,338.55) scale(0.85,1)" font-size="8.5" text-anchor="middle" fill="#242424">3</text>
<text transform="translate(369.82,338.55) scale(0.85,1)" font-size="8.5" text-anchor="middle" fill="#242424">1</text>
<text transform="translate(382.23,338.55) scale(0.85,1)" font-size="8.5" text-anchor="middle" fill="#242424">0</text>
<text transform="translate(394.65,338.55) scale(0.85,1)" font-size="8.5" text-anchor="middle" fill="#ffffff">3</text>
<text transform="translate(407.06,338.55) scale(0.85,1)" font-size="8.5" text-anchor="middle" fill="#242424">0</text>
<text transform="translate(419.48,338.55) scale(0.85,1)" font-size="8.5" text-anchor="middle" fill="#242424">1</text>
<text transform="translate(431.90,338.55) scale(0.85,1)" font-size="8.5" text-anchor="middle" fill="#242424">2</text>
<text transform="translate(344.98,349.20) scale(0.85,1)" font-size="8.5" text-anchor="middle" fill="#242424">28</text>
<text transform="translate(357.40,349.20) scale(0.85,1)" font-size="8.5" text-anchor="middle" fill="#242424">2</text>
<text transform="translate(369.82,349.20) scale(0.85,1)" font-size="8.5" text-anchor="middle" fill="#242424">4</text>
<text transform="translate(382.23,349.20) scale(0.85,1)" font-size="8.5" text-anchor="middle" fill="#242424">2</text>
<text transform="translate(394.65,349.20) scale(0.85,1)" font-size="8.5" text-anchor="middle" fill="#242424">1</text>
<text transform="translate(407.06,349.20) scale(0.85,1)" font-size="8.5" text-anchor="middle" fill="#242424">2</text>
<text transform="translate(419.48,349.20) scale(0.85,1)" font-size="8.5" text-anchor="middle" fill="#242424">1</text>
<text transform="translate(431.90,349.20) scale(0.85,1)" font-size="8.5" text-anchor="middle" fill="#ffffff">3</text>
<text transform="translate(357.40,359.60) scale(0.85,1)" font-size="8.5" text-anchor="middle" fill="#242424">16</text>
<text transform="translate(369.82,359.60) scale(0.85,1)" font-size="8.5" text-anchor="middle" fill="#242424">1</text>
<text transform="translate(382.23,359.60) scale(0.85,1)" font-size="8.5" text-anchor="middle" fill="#ffffff">3</text>
<text transform="translate(394.65,359.60) scale(0.85,1)" font-size="8.5" text-anchor="middle" fill="#242424">1</text>
<text transform="translate(407.06,359.60) scale(0.85,1)" font-size="8.5" text-anchor="middle" fill="#242424">1</text>
<text transform="translate(419.48,359.60) scale(0.85,1)" font-size="8.5" text-anchor="middle" fill="#242424">1</text>
<text transform="translate(431.90,359.60) scale(0.85,1)" font-size="8.5" text-anchor="middle" fill="#242424">0</text>
<text transform="translate(369.82,370.10) scale(0.85,1)" font-size="8.5" text-anchor="middle" fill="#242424">18</text>
<text transform="translate(382.23,370.10) scale(0.85,1)" font-size="8.5" text-anchor="middle" fill="#242424">0</text>
<text transform="translate(394.65,370.10) scale(0.85,1)" font-size="8.5" text-anchor="middle" fill="#242424">0</text>
<text transform="translate(407.06,370.10) scale(0.85,1)" font-size="8.5" text-anchor="middle" fill="#242424">0</text>
<text transform="translate(419.48,370.10) scale(0.85,1)" font-size="8.5" text-anchor="middle" fill="#242424">1</text>
<text transform="translate(431.90,370.10) scale(0.85,1)" font-size="8.5" text-anchor="middle" fill="#242424">1</text>
<text transform="translate(382.23,380.60) scale(0.85,1)" font-size="8.5" text-anchor="middle" fill="#242424">10</text>
<text transform="translate(394.65,380.60) scale(0.85,1)" font-size="8.5" text-anchor="middle" fill="#242424">0</text>
<text transform="translate(407.06,380.60) scale(0.85,1)" font-size="8.5" text-anchor="middle" fill="#242424">2</text>
<text transform="translate(419.48,380.60) scale(0.85,1)" font-size="8.5" text-anchor="middle" fill="#242424">0</text>
<text transform="translate(431.90,380.60) scale(0.85,1)" font-size="8.5" text-anchor="middle" fill="#242424">0</text>
<text transform="translate(394.65,390.65) scale(0.85,1)" font-size="8.5" text-anchor="middle" fill="#242424">7</text>
<text transform="translate(407.06,390.65) scale(0.85,1)" font-size="8.5" text-anchor="middle" fill="#242424">0</text>
<text transform="translate(419.48,390.65) scale(0.85,1)" font-size="8.5" text-anchor="middle" fill="#242424">0</text>
<text transform="translate(431.90,390.65) scale(0.85,1)" font-size="8.5" text-anchor="middle" fill="#242424">0</text>
<text transform="translate(407.06,400.13) scale(0.85,1)" font-size="8.5" text-anchor="middle" fill="#242424">8</text>
<text transform="translate(419.48,400.13) scale(0.85,1)" font-size="8.5" text-anchor="middle" fill="#242424">0</text>
<text transform="translate(431.90,400.13) scale(0.85,1)" font-size="8.5" text-anchor="middle" fill="#242424">0</text>
<text transform="translate(419.48,409.98) scale(0.85,1)" font-size="8.5" text-anchor="middle" fill="#242424">8</text>
<text transform="translate(431.90,409.98) scale(0.85,1)" font-size="8.5" text-anchor="middle" fill="#242424">0</text>
<text transform="translate(431.90,420.20) scale(0.85,1)" font-size="8.5" text-anchor="middle" fill="#242424">6</text>
<text transform="translate(471.15,77.30) scale(0.9,1)" font-size="8.2" text-anchor="middle" fill="#242424">RPL22<tspan font-size="6.40" dy="-3.0">del</tspan></text>
<text transform="translate(471.15,87.35) scale(0.9,1)" font-size="8.2" text-anchor="middle" fill="#242424">STIL-TAL1</text>
<text transform="translate(471.15,97.27) scale(0.9,1)" font-size="8.2" text-anchor="middle" fill="#242424">LEF1<tspan font-size="6.40" dy="-3.0">del</tspan></text>
<text transform="translate(471.15,107.95) scale(0.9,1)" font-size="8.2" text-anchor="middle" fill="#242424">TLX3<tspan font-size="6.40" dy="-3.0">del</tspan></text>
<text transform="translate(471.15,118.95) scale(0.9,1)" font-size="8.2" text-anchor="middle" fill="#242424">CASP8AP2<tspan font-size="6.40" dy="-3.0">del</tspan></text>
<text transform="translate(471.15,129.50) scale(0.9,1)" font-size="8.2" text-anchor="middle" fill="#242424">MYB/AH1<tspan font-size="6.40" dy="-3.0">gain</tspan></text>
<text transform="translate(471.15,139.75) scale(0.9,1)" font-size="8.2" text-anchor="middle" fill="#242424">MLLT4<tspan font-size="6.40" dy="-3.0">gain</tspan></text>
<text transform="translate(471.15,150.25) scale(0.9,1)" font-size="8.2" text-anchor="middle" fill="#242424">IKZF1<tspan font-size="6.40" dy="-3.0">del</tspan></text>
<text transform="translate(471.15,160.60) scale(0.9,1)" font-size="8.2" text-anchor="middle" fill="#242424">Trisomy 8</text>
<text transform="translate(471.15,170.82) scale(0.9,1)" font-size="8.2" text-anchor="middle" fill="#242424">CDKN2A/B<tspan font-size="6.40" dy="-3.0">del</tspan></text>
<text transform="translate(471.15,181.37) scale(0.9,1)" font-size="8.2" text-anchor="middle" fill="#242424">CDKN2A/B<tspan font-size="6.40" dy="-3.0">UPD</tspan></text>
<text transform="translate(471.15,191.95) scale(0.9,1)" font-size="8.2" text-anchor="middle" fill="#242424">NUP214::ABL1</text>
<text transform="translate(471.15,201.55) scale(0.9,1)" font-size="8.2" text-anchor="middle" fill="#242424">SET::NUP214</text>
<text transform="translate(471.15,211.35) scale(0.9,1)" font-size="8.2" text-anchor="middle" fill="#242424">PTEN<tspan font-size="6.40" dy="-3.0">del</tspan></text>
<text transform="translate(471.15,221.95) scale(0.9,1)" font-size="8.2" text-anchor="middle" fill="#242424">LMO2-RAG2</text>
<text transform="translate(471.15,232.03) scale(0.9,1)" font-size="8.2" text-anchor="middle" fill="#242424">WT1<tspan font-size="6.40" dy="-3.0">del</tspan></text>
<text transform="translate(471.15,242.22) scale(0.9,1)" font-size="8.2" text-anchor="middle" fill="#242424">PICALM<tspan font-size="6.40" dy="-3.0">del</tspan></text>
<text transform="translate(471.15,252.92) scale(0.9,1)" font-size="8.2" text-anchor="middle" fill="#242424">ETV6/CDKN1B<tspan font-size="6.40" dy="-3.0">del</tspan></text>
<text transform="translate(471.15,263.53) scale(0.9,1)" font-size="8.2" text-anchor="middle" fill="#242424">SH2B3<tspan font-size="6.40" dy="-3.0">UPD</tspan></text>
<text transform="translate(471.15,274.10) scale(0.9,1)" font-size="8.2" text-anchor="middle" fill="#242424">SH2B3<tspan font-size="6.40" dy="-3.0">del</tspan></text>
<text transform="translate(471.15,284.73) scale(0.9,1)" font-size="8.2" text-anchor="middle" fill="#242424">RB1/DLEU1<tspan font-size="6.40" dy="-3.0">del</tspan></text>
<text transform="translate(471.15,295.33) scale(0.9,1)" font-size="8.2" text-anchor="middle" fill="#242424">BCL11B<tspan font-size="6.40" dy="-3.0">del/gain</tspan></text>
<text transform="translate(471.15,306.15) scale(0.9,1)" font-size="8.2" text-anchor="middle" fill="#242424">CREBBP<tspan font-size="6.40" dy="-3.0">del</tspan></text>
<text transform="translate(471.15,317.00) scale(0.9,1)" font-size="8.2" text-anchor="middle" fill="#242424">CTCF<tspan font-size="6.40" dy="-3.0">del</tspan></text>
<text transform="translate(471.15,327.70) scale(0.9,1)" font-size="8.2" text-anchor="middle" fill="#242424">TP53<tspan font-size="6.40" dy="-3.0">del</tspan></text>
<text transform="translate(471.15,338.35) scale(0.9,1)" font-size="8.2" text-anchor="middle" fill="#242424">NF1/SUZ12<tspan font-size="6.40" dy="-3.0">del</tspan></text>
<text transform="translate(471.15,349.00) scale(0.9,1)" font-size="8.2" text-anchor="middle" fill="#242424">PTPN2<tspan font-size="6.40" dy="-3.0">del</tspan></text>
<text transform="translate(471.15,359.40) scale(0.9,1)" font-size="8.2" text-anchor="middle" fill="#242424">Trisomy 19</text>
<text transform="translate(471.15,369.90) scale(0.9,1)" font-size="8.2" text-anchor="middle" fill="#242424">DNM2<tspan font-size="6.40" dy="-3.0">del</tspan></text>
<text transform="translate(471.15,380.40) scale(0.9,1)" font-size="8.2" text-anchor="middle" fill="#242424">Trisomy 20</text>
<text transform="translate(471.15,390.45) scale(0.9,1)" font-size="8.2" text-anchor="middle" fill="#242424">RUNX1<tspan font-size="6.40" dy="-3.0">del</tspan></text>
<text transform="translate(471.15,399.93) scale(0.9,1)" font-size="8.2" text-anchor="middle" fill="#242424">Trisomy 21</text>
<text transform="translate(471.15,409.78) scale(0.9,1)" font-size="8.2" text-anchor="middle" fill="#242424">PHF6<tspan font-size="6.40" dy="-3.0">del</tspan></text>
<text transform="translate(471.15,420.00) scale(0.9,1)" font-size="8.2" text-anchor="middle" fill="#242424">Chromothripsis</text>
<rect x="19.2" y="144.8" width="8.7" height="8.1" fill="#c70d2c"/>
<rect x="19.2" y="155.6" width="8.7" height="8.1" fill="#134e8d"/>
<text transform="translate(31.9,151.4) scale(0.95,1)" font-size="7.6" fill="#242424"><tspan font-style="italic">P</tspan> &lt; .01</text>
<text transform="translate(31.9,162.1) scale(0.95,1)" font-size="7.6" fill="#242424"><tspan font-style="italic">P</tspan> &lt; .01</text>
<rect x="82.50" y="464.55" width="131.10" height="8.00" fill="#c4640f"/>
<rect x="82.50" y="473.68" width="127.10" height="8.00" fill="#2aa9e0"/>
<rect x="82.50" y="482.80" width="57.70" height="8.00" fill="#c4640f"/>
<rect x="140.20" y="482.80" width="5.10" height="8.00" fill="#2aa9e0"/>
<rect x="82.50" y="491.93" width="38.80" height="8.00" fill="#c4640f"/>
<rect x="82.50" y="501.05" width="24.30" height="8.00" fill="#c4640f"/>
<rect x="106.80" y="501.05" width="2.20" height="8.00" fill="#35ac33"/>
<rect x="109.00" y="501.05" width="7.60" height="8.00" fill="#2aa9e0"/>
<rect x="82.50" y="510.17" width="27.20" height="8.00" fill="#c4640f"/>
<rect x="109.70" y="510.17" width="2.10" height="8.00" fill="#35ac33"/>
<rect x="111.80" y="510.17" width="4.20" height="8.00" fill="#2aa9e0"/>
<rect x="82.50" y="519.30" width="1.70" height="8.00" fill="#c4640f"/>
<rect x="84.20" y="519.30" width="1.20" height="8.00" fill="#35ac33"/>
<rect x="85.40" y="519.30" width="24.60" height="8.00" fill="#2aa9e0"/>
<rect x="82.50" y="528.42" width="16.20" height="8.00" fill="#c4640f"/>
<rect x="98.70" y="528.42" width="5.30" height="8.00" fill="#35ac33"/>
<rect x="104.00" y="528.42" width="4.60" height="8.00" fill="#2aa9e0"/>
<rect x="82.50" y="537.55" width="24.80" height="8.00" fill="#c4640f"/>
<rect x="82.50" y="546.67" width="10.40" height="8.00" fill="#c4640f"/>
<rect x="92.90" y="546.67" width="2.90" height="8.00" fill="#35ac33"/>
<rect x="95.80" y="546.67" width="10.60" height="8.00" fill="#2aa9e0"/>
<rect x="82.50" y="555.80" width="4.20" height="8.00" fill="#c4640f"/>
<rect x="86.70" y="555.80" width="1.40" height="8.00" fill="#35ac33"/>
<rect x="88.10" y="555.80" width="16.80" height="8.00" fill="#2aa9e0"/>
<rect x="82.50" y="564.92" width="9.40" height="8.00" fill="#c4640f"/>
<rect x="91.90" y="564.92" width="11.90" height="8.00" fill="#2aa9e0"/>
<rect x="82.50" y="574.05" width="18.60" height="8.00" fill="#c4640f"/>
<rect x="82.50" y="583.17" width="13.30" height="8.00" fill="#c4640f"/>
<rect x="95.80" y="583.17" width="2.30" height="8.00" fill="#35ac33"/>
<rect x="98.10" y="583.17" width="2.90" height="8.00" fill="#2aa9e0"/>
<rect x="82.50" y="592.30" width="1.80" height="8.00" fill="#c4640f"/>
<rect x="84.30" y="592.30" width="0.70" height="8.00" fill="#35ac33"/>
<rect x="85.00" y="592.30" width="14.60" height="8.00" fill="#2aa9e0"/>
<rect x="82.50" y="601.42" width="13.30" height="8.00" fill="#c4640f"/>
<rect x="95.80" y="601.42" width="3.20" height="8.00" fill="#2aa9e0"/>
<rect x="82.50" y="610.55" width="3.20" height="8.00" fill="#c4640f"/>
<rect x="85.70" y="610.55" width="1.40" height="8.00" fill="#35ac33"/>
<rect x="87.10" y="610.55" width="11.10" height="8.00" fill="#2aa9e0"/>
<rect x="82.50" y="619.67" width="15.50" height="8.00" fill="#c4640f"/>
<rect x="82.50" y="628.80" width="2.50" height="8.00" fill="#c4640f"/>
<rect x="85.00" y="628.80" width="1.60" height="8.00" fill="#35ac33"/>
<rect x="86.60" y="628.80" width="11.30" height="8.00" fill="#2aa9e0"/>
<rect x="82.50" y="637.92" width="12.30" height="8.00" fill="#c4640f"/>
<rect x="82.50" y="647.05" width="4.60" height="8.00" fill="#c4640f"/>
<rect x="87.10" y="647.05" width="6.80" height="8.00" fill="#2aa9e0"/>
<rect x="82.50" y="656.17" width="10.90" height="8.00" fill="#c4640f"/>
<rect x="82.50" y="665.30" width="10.90" height="8.00" fill="#c4640f"/>
<rect x="82.50" y="674.42" width="7.50" height="8.00" fill="#c4640f"/>
<rect x="90.00" y="674.42" width="1.50" height="8.00" fill="#35ac33"/>
<rect x="91.50" y="674.42" width="1.40" height="8.00" fill="#2aa9e0"/>
<rect x="82.50" y="683.55" width="3.20" height="8.00" fill="#c4640f"/>
<rect x="85.70" y="683.55" width="1.60" height="8.00" fill="#35ac33"/>
<rect x="87.30" y="683.55" width="5.60" height="8.00" fill="#2aa9e0"/>
<rect x="82.50" y="692.67" width="10.40" height="8.00" fill="#c4640f"/>
<rect x="82.50" y="701.80" width="9.20" height="8.00" fill="#c4640f"/>
<rect x="82.50" y="710.92" width="9.20" height="8.00" fill="#c4640f"/>
<rect x="82.50" y="720.05" width="7.50" height="8.00" fill="#c4640f"/>
<rect x="82.50" y="729.17" width="7.50" height="8.00" fill="#c4640f"/>
<rect x="82.50" y="738.30" width="7.50" height="8.00" fill="#c4640f"/>
<rect x="82.50" y="747.42" width="6.50" height="8.00" fill="#c4640f"/>
<rect x="82.50" y="756.55" width="6.50" height="8.00" fill="#c4640f"/>
<rect x="82.50" y="765.67" width="6.30" height="8.00" fill="#c4640f"/>
<rect x="82.50" y="774.80" width="4.60" height="8.00" fill="#c4640f"/>
<rect x="82.50" y="783.92" width="4.60" height="8.00" fill="#c4640f"/>
<rect x="82.50" y="793.05" width="4.00" height="8.00" fill="#c4640f"/>
<rect x="82.50" y="802.17" width="3.70" height="8.00" fill="#c4640f"/>
<rect x="82.50" y="811.30" width="3.20" height="8.00" fill="#c4640f"/>
<rect x="82.50" y="820.42" width="2.70" height="8.00" fill="#c4640f"/>
<rect x="82.50" y="829.55" width="2.40" height="8.00" fill="#c4640f"/>
<rect x="82.50" y="838.67" width="1.50" height="8.00" fill="#c4640f"/>
<rect x="82.50" y="847.80" width="1.50" height="8.00" fill="#c4640f"/>
<rect x="365.30" y="464.55" width="130.70" height="8.00" fill="#c4640f"/>
<rect x="365.30" y="473.69" width="130.70" height="8.00" fill="#2aa9e0"/>
<rect x="365.30" y="482.84" width="120.70" height="8.00" fill="#c4640f"/>
<rect x="486.00" y="482.84" width="10.00" height="8.00" fill="#2aa9e0"/>
<rect x="365.30" y="491.99" width="130.70" height="8.00" fill="#c4640f"/>
<rect x="365.30" y="501.13" width="90.80" height="8.00" fill="#c4640f"/>
<rect x="456.10" y="501.13" width="8.40" height="8.00" fill="#35ac33"/>
<rect x="464.50" y="501.13" width="31.50" height="8.00" fill="#2aa9e0"/>
<rect x="365.30" y="510.27" width="102.90" height="8.00" fill="#c4640f"/>
<rect x="468.20" y="510.27" width="7.80" height="8.00" fill="#35ac33"/>
<rect x="476.00" y="510.27" width="20.00" height="8.00" fill="#2aa9e0"/>
<rect x="365.30" y="519.42" width="8.20" height="8.00" fill="#c4640f"/>
<rect x="373.50" y="519.42" width="5.90" height="8.00" fill="#35ac33"/>
<rect x="379.40" y="519.42" width="116.60" height="8.00" fill="#2aa9e0"/>
<rect x="365.30" y="528.57" width="93.00" height="8.00" fill="#c4640f"/>
<rect x="458.30" y="528.57" width="19.40" height="8.00" fill="#35ac33"/>
<rect x="477.70" y="528.57" width="18.30" height="8.00" fill="#2aa9e0"/>
<rect x="365.30" y="537.71" width="130.70" height="8.00" fill="#c4640f"/>
<rect x="365.30" y="546.86" width="56.60" height="8.00" fill="#c4640f"/>
<rect x="421.90" y="546.86" width="11.30" height="8.00" fill="#35ac33"/>
<rect x="433.20" y="546.86" width="62.80" height="8.00" fill="#2aa9e0"/>
<rect x="365.30" y="556.00" width="29.70" height="8.00" fill="#c4640f"/>
<rect x="395.00" y="556.00" width="4.00" height="8.00" fill="#35ac33"/>
<rect x="399.00" y="556.00" width="97.00" height="8.00" fill="#2aa9e0"/>
<rect x="365.30" y="565.14" width="60.10" height="8.00" fill="#c4640f"/>
<rect x="425.40" y="565.14" width="70.60" height="8.00" fill="#2aa9e0"/>
<rect x="365.30" y="574.29" width="130.70" height="8.00" fill="#c4640f"/>
<rect x="365.30" y="583.43" width="101.10" height="8.00" fill="#c4640f"/>
<rect x="466.40" y="583.43" width="12.60" height="8.00" fill="#35ac33"/>
<rect x="479.00" y="583.43" width="17.00" height="8.00" fill="#2aa9e0"/>
<rect x="365.30" y="592.58" width="8.70" height="8.00" fill="#c4640f"/>
<rect x="374.00" y="592.58" width="4.30" height="8.00" fill="#35ac33"/>
<rect x="378.30" y="592.58" width="117.70" height="8.00" fill="#2aa9e0"/>
<rect x="365.30" y="601.73" width="98.90" height="8.00" fill="#c4640f"/>
<rect x="464.20" y="601.73" width="31.80" height="8.00" fill="#2aa9e0"/>
<rect x="365.30" y="610.87" width="28.40" height="8.00" fill="#c4640f"/>
<rect x="393.70" y="610.87" width="6.10" height="8.00" fill="#35ac33"/>
<rect x="399.80" y="610.87" width="96.20" height="8.00" fill="#2aa9e0"/>
<rect x="365.30" y="620.01" width="130.70" height="8.00" fill="#c4640f"/>
<rect x="365.30" y="629.16" width="10.30" height="8.00" fill="#c4640f"/>
<rect x="375.60" y="629.16" width="14.60" height="8.00" fill="#35ac33"/>
<rect x="390.20" y="629.16" width="105.80" height="8.00" fill="#2aa9e0"/>
<rect x="365.30" y="638.31" width="130.70" height="8.00" fill="#c4640f"/>
<rect x="365.30" y="647.45" width="44.00" height="8.00" fill="#c4640f"/>
<rect x="409.30" y="647.45" width="86.70" height="8.00" fill="#2aa9e0"/>
<rect x="365.30" y="656.60" width="130.70" height="8.00" fill="#c4640f"/>
<rect x="365.30" y="665.74" width="130.70" height="8.00" fill="#c4640f"/>
<rect x="365.30" y="674.88" width="94.30" height="8.00" fill="#c4640f"/>
<rect x="459.60" y="674.88" width="14.80" height="8.00" fill="#35ac33"/>
<rect x="474.40" y="674.88" width="21.60" height="8.00" fill="#2aa9e0"/>
<rect x="365.30" y="684.03" width="30.50" height="8.00" fill="#c4640f"/>
<rect x="395.80" y="684.03" width="23.40" height="8.00" fill="#35ac33"/>
<rect x="419.20" y="684.03" width="76.80" height="8.00" fill="#2aa9e0"/>
<rect x="365.30" y="693.17" width="130.70" height="8.00" fill="#c4640f"/>
<rect x="365.30" y="702.32" width="130.70" height="8.00" fill="#c4640f"/>
<rect x="365.30" y="711.47" width="130.70" height="8.00" fill="#c4640f"/>
<rect x="365.30" y="720.61" width="130.70" height="8.00" fill="#c4640f"/>
<rect x="365.30" y="729.75" width="130.70" height="8.00" fill="#c4640f"/>
<rect x="365.30" y="738.90" width="130.70" height="8.00" fill="#c4640f"/>
<rect x="365.30" y="748.05" width="130.70" height="8.00" fill="#c4640f"/>
<rect x="365.30" y="757.19" width="130.70" height="8.00" fill="#c4640f"/>
<rect x="365.30" y="766.34" width="130.70" height="8.00" fill="#c4640f"/>
<rect x="365.30" y="775.48" width="130.70" height="8.00" fill="#c4640f"/>
<rect x="365.30" y="784.62" width="130.70" height="8.00" fill="#c4640f"/>
<rect x="365.30" y="793.77" width="130.70" height="8.00" fill="#c4640f"/>
<rect x="365.30" y="802.91" width="130.70" height="8.00" fill="#c4640f"/>
<rect x="365.30" y="812.06" width="130.70" height="8.00" fill="#c4640f"/>
<rect x="365.30" y="821.20" width="130.70" height="8.00" fill="#c4640f"/>
<rect x="365.30" y="830.35" width="130.70" height="8.00" fill="#c4640f"/>
<rect x="365.30" y="839.50" width="130.70" height="8.00" fill="#c4640f"/>
<rect x="365.30" y="848.64" width="130.70" height="8.00" fill="#c4640f"/>
<text transform="translate(68.10,470.55) scale(1.03,1)" font-size="8.3" font-style="italic" text-anchor="end" fill="#222">NOTCH1</text>
<line x1="72.30" y1="468.55" x2="76.60" y2="468.55" stroke="#111" stroke-width="0.9"/>
<text transform="translate(68.10,479.68) scale(1.03,1)" font-size="8.3" font-style="italic" text-anchor="end" fill="#222">CDKN2A</text>
<line x1="72.30" y1="477.68" x2="76.60" y2="477.68" stroke="#111" stroke-width="0.9"/>
<text transform="translate(68.10,488.80) scale(1.03,1)" font-size="8.3" font-style="italic" text-anchor="end" fill="#222">PHF6</text>
<line x1="72.30" y1="486.80" x2="76.60" y2="486.80" stroke="#111" stroke-width="0.9"/>
<text transform="translate(68.10,497.93) scale(1.03,1)" font-size="8.3" font-style="italic" text-anchor="end" fill="#222">FBXW7</text>
<line x1="72.30" y1="495.93" x2="76.60" y2="495.93" stroke="#111" stroke-width="0.9"/>
<text transform="translate(68.10,507.05) scale(1.03,1)" font-size="8.3" font-style="italic" text-anchor="end" fill="#222">DNM2</text>
<line x1="72.30" y1="505.05" x2="76.60" y2="505.05" stroke="#111" stroke-width="0.9"/>
<text transform="translate(68.10,516.17) scale(1.03,1)" font-size="8.3" font-style="italic" text-anchor="end" fill="#222">BCL11B</text>
<line x1="72.30" y1="514.17" x2="76.60" y2="514.17" stroke="#111" stroke-width="0.9"/>
<text transform="translate(68.10,525.30) scale(1.03,1)" font-size="8.3" font-style="italic" text-anchor="end" fill="#222">RB1</text>
<line x1="72.30" y1="523.30" x2="76.60" y2="523.30" stroke="#111" stroke-width="0.9"/>
<text transform="translate(68.10,534.42) scale(1.03,1)" font-size="8.3" font-style="italic" text-anchor="end" fill="#222">PTEN</text>
<line x1="72.30" y1="532.42" x2="76.60" y2="532.42" stroke="#111" stroke-width="0.9"/>
<text transform="translate(68.10,543.55) scale(1.03,1)" font-size="8.3" font-style="italic" text-anchor="end" fill="#222">JAK3</text>
<line x1="72.30" y1="541.55" x2="76.60" y2="541.55" stroke="#111" stroke-width="0.9"/>
<text transform="translate(68.10,552.67) scale(1.03,1)" font-size="8.3" font-style="italic" text-anchor="end" fill="#222">SUZ12</text>
<line x1="72.30" y1="550.67" x2="76.60" y2="550.67" stroke="#111" stroke-width="0.9"/>
<text transform="translate(68.10,561.80) scale(1.03,1)" font-size="8.3" font-style="italic" text-anchor="end" fill="#222">ETV6</text>
<line x1="72.30" y1="559.80" x2="76.60" y2="559.80" stroke="#111" stroke-width="0.9"/>
<text transform="translate(68.10,570.92) scale(1.03,1)" font-size="8.3" font-style="italic" text-anchor="end" fill="#222">CTCF</text>
<line x1="72.30" y1="568.92" x2="76.60" y2="568.92" stroke="#111" stroke-width="0.9"/>
<text transform="translate(68.10,580.05) scale(1.03,1)" font-size="8.3" font-style="italic" text-anchor="end" fill="#222">IL7R</text>
<line x1="72.30" y1="578.05" x2="76.60" y2="578.05" stroke="#111" stroke-width="0.9"/>
<text transform="translate(68.10,589.17) scale(1.03,1)" font-size="8.3" font-style="italic" text-anchor="end" fill="#222">WT1</text>
<line x1="72.30" y1="587.17" x2="76.60" y2="587.17" stroke="#111" stroke-width="0.9"/>
<text transform="translate(68.10,598.30) scale(1.03,1)" font-size="8.3" font-style="italic" text-anchor="end" fill="#222">PTPN2</text>
<line x1="72.30" y1="596.30" x2="76.60" y2="596.30" stroke="#111" stroke-width="0.9"/>
<text transform="translate(68.10,607.42) scale(1.03,1)" font-size="8.3" font-style="italic" text-anchor="end" fill="#222">RUNX1</text>
<line x1="72.30" y1="605.42" x2="76.60" y2="605.42" stroke="#111" stroke-width="0.9"/>
<text transform="translate(68.10,616.55) scale(1.03,1)" font-size="8.3" font-style="italic" text-anchor="end" fill="#222">LEF1</text>
<line x1="72.30" y1="614.55" x2="76.60" y2="614.55" stroke="#111" stroke-width="0.9"/>
<text transform="translate(68.10,625.67) scale(1.03,1)" font-size="8.3" font-style="italic" text-anchor="end" fill="#222">STAT5B</text>
<line x1="72.30" y1="623.67" x2="76.60" y2="623.67" stroke="#111" stroke-width="0.9"/>
<text transform="translate(68.10,634.80) scale(1.03,1)" font-size="8.3" font-style="italic" text-anchor="end" fill="#222">NF1</text>
<line x1="72.30" y1="632.80" x2="76.60" y2="632.80" stroke="#111" stroke-width="0.9"/>
<text transform="translate(68.10,643.92) scale(1.03,1)" font-size="8.3" font-style="italic" text-anchor="end" fill="#222">NRAS</text>
<line x1="72.30" y1="641.92" x2="76.60" y2="641.92" stroke="#111" stroke-width="0.9"/>
<text transform="translate(68.10,653.05) scale(1.03,1)" font-size="8.3" font-style="italic" text-anchor="end" fill="#222">IKZF1</text>
<line x1="72.30" y1="651.05" x2="76.60" y2="651.05" stroke="#111" stroke-width="0.9"/>
<text transform="translate(68.10,662.17) scale(1.03,1)" font-size="8.3" font-style="italic" text-anchor="end" fill="#222">JAK1</text>
<line x1="72.30" y1="660.17" x2="76.60" y2="660.17" stroke="#111" stroke-width="0.9"/>
<text transform="translate(68.10,671.30) scale(1.03,1)" font-size="8.3" font-style="italic" text-anchor="end" fill="#222">DNMT3A</text>
<line x1="72.30" y1="669.30" x2="76.60" y2="669.30" stroke="#111" stroke-width="0.9"/>
<text transform="translate(68.10,680.42) scale(1.03,1)" font-size="8.3" font-style="italic" text-anchor="end" fill="#222">SH2B3</text>
<line x1="72.30" y1="678.42" x2="76.60" y2="678.42" stroke="#111" stroke-width="0.9"/>
<text transform="translate(68.10,689.55) scale(1.03,1)" font-size="8.3" font-style="italic" text-anchor="end" fill="#222">TP53</text>
<line x1="72.30" y1="687.55" x2="76.60" y2="687.55" stroke="#111" stroke-width="0.9"/>
<text transform="translate(68.10,698.67) scale(1.03,1)" font-size="8.3" font-style="italic" text-anchor="end" fill="#222">EP300</text>
<line x1="72.30" y1="696.67" x2="76.60" y2="696.67" stroke="#111" stroke-width="0.9"/>
<text transform="translate(68.10,707.80) scale(1.03,1)" font-size="8.3" font-style="italic" text-anchor="end" fill="#222">EED</text>
<line x1="72.30" y1="705.80" x2="76.60" y2="705.80" stroke="#111" stroke-width="0.9"/>
<text transform="translate(68.10,716.92) scale(1.03,1)" font-size="8.3" font-style="italic" text-anchor="end" fill="#222">EZH2</text>
<line x1="72.30" y1="714.92" x2="76.60" y2="714.92" stroke="#111" stroke-width="0.9"/>
<text transform="translate(68.10,726.05) scale(1.03,1)" font-size="8.3" font-style="italic" text-anchor="end" fill="#222">KRAS</text>
<line x1="72.30" y1="724.05" x2="76.60" y2="724.05" stroke="#111" stroke-width="0.9"/>
<text transform="translate(68.10,735.17) scale(1.03,1)" font-size="8.3" font-style="italic" text-anchor="end" fill="#222">KMT2D</text>
<line x1="72.30" y1="733.17" x2="76.60" y2="733.17" stroke="#111" stroke-width="0.9"/>
<text transform="translate(68.10,744.30) scale(1.03,1)" font-size="8.3" font-style="italic" text-anchor="end" fill="#222">KMT2A</text>
<line x1="72.30" y1="742.30" x2="76.60" y2="742.30" stroke="#111" stroke-width="0.9"/>
<text transform="translate(68.10,753.42) scale(1.03,1)" font-size="8.3" font-style="italic" text-anchor="end" fill="#222">SETD2</text>
<line x1="72.30" y1="751.42" x2="76.60" y2="751.42" stroke="#111" stroke-width="0.9"/>
<text transform="translate(68.10,762.55) scale(1.03,1)" font-size="8.3" font-style="italic" text-anchor="end" fill="#222">PIK3R1</text>
<line x1="72.30" y1="760.55" x2="76.60" y2="760.55" stroke="#111" stroke-width="0.9"/>
<text transform="translate(68.10,771.67) scale(1.03,1)" font-size="8.3" font-style="italic" text-anchor="end" fill="#222">ASXL1</text>
<line x1="72.30" y1="769.67" x2="76.60" y2="769.67" stroke="#111" stroke-width="0.9"/>
<text transform="translate(68.10,780.80) scale(1.03,1)" font-size="8.3" font-style="italic" text-anchor="end" fill="#222">TET2</text>
<line x1="72.30" y1="778.80" x2="76.60" y2="778.80" stroke="#111" stroke-width="0.9"/>
<text transform="translate(68.10,789.92) scale(1.03,1)" font-size="8.3" font-style="italic" text-anchor="end" fill="#222">PIK3CA</text>
<line x1="72.30" y1="787.92" x2="76.60" y2="787.92" stroke="#111" stroke-width="0.9"/>
<text transform="translate(68.10,799.05) scale(1.03,1)" font-size="8.3" font-style="italic" text-anchor="end" fill="#222">IDH2</text>
<line x1="72.30" y1="797.05" x2="76.60" y2="797.05" stroke="#111" stroke-width="0.9"/>
<text transform="translate(68.10,808.17) scale(1.03,1)" font-size="8.3" font-style="italic" text-anchor="end" fill="#222">TET3</text>
<line x1="72.30" y1="806.17" x2="76.60" y2="806.17" stroke="#111" stroke-width="0.9"/>
<text transform="translate(68.10,817.30) scale(1.03,1)" font-size="8.3" font-style="italic" text-anchor="end" fill="#222">PTPN11</text>
<line x1="72.30" y1="815.30" x2="76.60" y2="815.30" stroke="#111" stroke-width="0.9"/>
<text transform="translate(68.10,826.42) scale(1.03,1)" font-size="8.3" font-style="italic" text-anchor="end" fill="#222">IDH1</text>
<line x1="72.30" y1="824.42" x2="76.60" y2="824.42" stroke="#111" stroke-width="0.9"/>
<text transform="translate(68.10,835.55) scale(1.03,1)" font-size="8.3" font-style="italic" text-anchor="end" fill="#222">FLT3</text>
<line x1="72.30" y1="833.55" x2="76.60" y2="833.55" stroke="#111" stroke-width="0.9"/>
<text transform="translate(68.10,844.67) scale(1.03,1)" font-size="8.3" font-style="italic" text-anchor="end" fill="#222">AKT1</text>
<line x1="72.30" y1="842.67" x2="76.60" y2="842.67" stroke="#111" stroke-width="0.9"/>
<text transform="translate(68.10,853.80) scale(1.03,1)" font-size="8.3" font-style="italic" text-anchor="end" fill="#222">GATA3</text>
<line x1="72.30" y1="851.80" x2="76.60" y2="851.80" stroke="#111" stroke-width="0.9"/>
<text transform="translate(350.00,470.55) scale(1.03,1)" font-size="8.3" font-style="italic" text-anchor="end" fill="#222">NOTCH1</text>
<line x1="354.30" y1="468.55" x2="358.60" y2="468.55" stroke="#111" stroke-width="0.9"/>
<text transform="translate(350.00,479.69) scale(1.03,1)" font-size="8.3" font-style="italic" text-anchor="end" fill="#222">CDKN2A</text>
<line x1="354.30" y1="477.69" x2="358.60" y2="477.69" stroke="#111" stroke-width="0.9"/>
<text transform="translate(350.00,488.84) scale(1.03,1)" font-size="8.3" font-style="italic" text-anchor="end" fill="#222">PHF6</text>
<line x1="354.30" y1="486.84" x2="358.60" y2="486.84" stroke="#111" stroke-width="0.9"/>
<text transform="translate(350.00,497.99) scale(1.03,1)" font-size="8.3" font-style="italic" text-anchor="end" fill="#222">FBXW7</text>
<line x1="354.30" y1="495.99" x2="358.60" y2="495.99" stroke="#111" stroke-width="0.9"/>
<text transform="translate(350.00,507.13) scale(1.03,1)" font-size="8.3" font-style="italic" text-anchor="end" fill="#222">DNM2</text>
<line x1="354.30" y1="505.13" x2="358.60" y2="505.13" stroke="#111" stroke-width="0.9"/>
<text transform="translate(350.00,516.27) scale(1.03,1)" font-size="8.3" font-style="italic" text-anchor="end" fill="#222">BCL11B</text>
<line x1="354.30" y1="514.27" x2="358.60" y2="514.27" stroke="#111" stroke-width="0.9"/>
<text transform="translate(350.00,525.42) scale(1.03,1)" font-size="8.3" font-style="italic" text-anchor="end" fill="#222">RB1</text>
<line x1="354.30" y1="523.42" x2="358.60" y2="523.42" stroke="#111" stroke-width="0.9"/>
<text transform="translate(350.00,534.57) scale(1.03,1)" font-size="8.3" font-style="italic" text-anchor="end" fill="#222">PTEN</text>
<line x1="354.30" y1="532.57" x2="358.60" y2="532.57" stroke="#111" stroke-width="0.9"/>
<text transform="translate(350.00,543.71) scale(1.03,1)" font-size="8.3" font-style="italic" text-anchor="end" fill="#222">JAK3</text>
<line x1="354.30" y1="541.71" x2="358.60" y2="541.71" stroke="#111" stroke-width="0.9"/>
<text transform="translate(350.00,552.86) scale(1.03,1)" font-size="8.3" font-style="italic" text-anchor="end" fill="#222">SUZ12</text>
<line x1="354.30" y1="550.86" x2="358.60" y2="550.86" stroke="#111" stroke-width="0.9"/>
<text transform="translate(350.00,562.00) scale(1.03,1)" font-size="8.3" font-style="italic" text-anchor="end" fill="#222">ETV6</text>
<line x1="354.30" y1="560.00" x2="358.60" y2="560.00" stroke="#111" stroke-width="0.9"/>
<text transform="translate(350.00,571.14) scale(1.03,1)" font-size="8.3" font-style="italic" text-anchor="end" fill="#222">CTCF</text>
<line x1="354.30" y1="569.14" x2="358.60" y2="569.14" stroke="#111" stroke-width="0.9"/>
<text transform="translate(350.00,580.29) scale(1.03,1)" font-size="8.3" font-style="italic" text-anchor="end" fill="#222">IL7R</text>
<line x1="354.30" y1="578.29" x2="358.60" y2="578.29" stroke="#111" stroke-width="0.9"/>
<text transform="translate(350.00,589.43) scale(1.03,1)" font-size="8.3" font-style="italic" text-anchor="end" fill="#222">WT1</text>
<line x1="354.30" y1="587.43" x2="358.60" y2="587.43" stroke="#111" stroke-width="0.9"/>
<text transform="translate(350.00,598.58) scale(1.03,1)" font-size="8.3" font-style="italic" text-anchor="end" fill="#222">PTPN2</text>
<line x1="354.30" y1="596.58" x2="358.60" y2="596.58" stroke="#111" stroke-width="0.9"/>
<text transform="translate(350.00,607.73) scale(1.03,1)" font-size="8.3" font-style="italic" text-anchor="end" fill="#222">RUNX1</text>
<line x1="354.30" y1="605.73" x2="358.60" y2="605.73" stroke="#111" stroke-width="0.9"/>
<text transform="translate(350.00,616.87) scale(1.03,1)" font-size="8.3" font-style="italic" text-anchor="end" fill="#222">LEF1</text>
<line x1="354.30" y1="614.87" x2="358.60" y2="614.87" stroke="#111" stroke-width="0.9"/>
<text transform="translate(350.00,626.01) scale(1.03,1)" font-size="8.3" font-style="italic" text-anchor="end" fill="#222">STAT5B</text>
<line x1="354.30" y1="624.01" x2="358.60" y2="624.01" stroke="#111" stroke-width="0.9"/>
<text transform="translate(350.00,635.16) scale(1.03,1)" font-size="8.3" font-style="italic" text-anchor="end" fill="#222">NF1</text>
<line x1="354.30" y1="633.16" x2="358.60" y2="633.16" stroke="#111" stroke-width="0.9"/>
<text transform="translate(350.00,644.31) scale(1.03,1)" font-size="8.3" font-style="italic" text-anchor="end" fill="#222">NRAS</text>
<line x1="354.30" y1="642.31" x2="358.60" y2="642.31" stroke="#111" stroke-width="0.9"/>
<text transform="translate(350.00,653.45) scale(1.03,1)" font-size="8.3" font-style="italic" text-anchor="end" fill="#222">IKZF1</text>
<line x1="354.30" y1="651.45" x2="358.60" y2="651.45" stroke="#111" stroke-width="0.9"/>
<text transform="translate(350.00,662.60) scale(1.03,1)" font-size="8.3" font-style="italic" text-anchor="end" fill="#222">JAK1</text>
<line x1="354.30" y1="660.60" x2="358.60" y2="660.60" stroke="#111" stroke-width="0.9"/>
<text transform="translate(350.00,671.74) scale(1.03,1)" font-size="8.3" font-style="italic" text-anchor="end" fill="#222">DNMT3A</text>
<line x1="354.30" y1="669.74" x2="358.60" y2="669.74" stroke="#111" stroke-width="0.9"/>
<text transform="translate(350.00,680.88) scale(1.03,1)" font-size="8.3" font-style="italic" text-anchor="end" fill="#222">SH2B3</text>
<line x1="354.30" y1="678.88" x2="358.60" y2="678.88" stroke="#111" stroke-width="0.9"/>
<text transform="translate(350.00,690.03) scale(1.03,1)" font-size="8.3" font-style="italic" text-anchor="end" fill="#222">TP53</text>
<line x1="354.30" y1="688.03" x2="358.60" y2="688.03" stroke="#111" stroke-width="0.9"/>
<text transform="translate(350.00,699.17) scale(1.03,1)" font-size="8.3" font-style="italic" text-anchor="end" fill="#222">EP300</text>
<line x1="354.30" y1="697.17" x2="358.60" y2="697.17" stroke="#111" stroke-width="0.9"/>
<text transform="translate(350.00,708.32) scale(1.03,1)" font-size="8.3" font-style="italic" text-anchor="end" fill="#222">EED</text>
<line x1="354.30" y1="706.32" x2="358.60" y2="706.32" stroke="#111" stroke-width="0.9"/>
<text transform="translate(350.00,717.47) scale(1.03,1)" font-size="8.3" font-style="italic" text-anchor="end" fill="#222">EZH2</text>
<line x1="354.30" y1="715.47" x2="358.60" y2="715.47" stroke="#111" stroke-width="0.9"/>
<text transform="translate(350.00,726.61) scale(1.03,1)" font-size="8.3" font-style="italic" text-anchor="end" fill="#222">KRAS</text>
<line x1="354.30" y1="724.61" x2="358.60" y2="724.61" stroke="#111" stroke-width="0.9"/>
<text transform="translate(350.00,735.75) scale(1.03,1)" font-size="8.3" font-style="italic" text-anchor="end" fill="#222">KMT2D</text>
<line x1="354.30" y1="733.75" x2="358.60" y2="733.75" stroke="#111" stroke-width="0.9"/>
<text transform="translate(350.00,744.90) scale(1.03,1)" font-size="8.3" font-style="italic" text-anchor="end" fill="#222">KMT2A</text>
<line x1="354.30" y1="742.90" x2="358.60" y2="742.90" stroke="#111" stroke-width="0.9"/>
<text transform="translate(350.00,754.05) scale(1.03,1)" font-size="8.3" font-style="italic" text-anchor="end" fill="#222">SETD2</text>
<line x1="354.30" y1="752.05" x2="358.60" y2="752.05" stroke="#111" stroke-width="0.9"/>
<text transform="translate(350.00,763.19) scale(1.03,1)" font-size="8.3" font-style="italic" text-anchor="end" fill="#222">PIK3R1</text>
<line x1="354.30" y1="761.19" x2="358.60" y2="761.19" stroke="#111" stroke-width="0.9"/>
<text transform="translate(350.00,772.34) scale(1.03,1)" font-size="8.3" font-style="italic" text-anchor="end" fill="#222">ASXL1</text>
<line x1="354.30" y1="770.34" x2="358.60" y2="770.34" stroke="#111" stroke-width="0.9"/>
<text transform="translate(350.00,781.48) scale(1.03,1)" font-size="8.3" font-style="italic" text-anchor="end" fill="#222">TET2</text>
<line x1="354.30" y1="779.48" x2="358.60" y2="779.48" stroke="#111" stroke-width="0.9"/>
<text transform="translate(350.00,790.62) scale(1.03,1)" font-size="8.3" font-style="italic" text-anchor="end" fill="#222">PIK3CA</text>
<line x1="354.30" y1="788.62" x2="358.60" y2="788.62" stroke="#111" stroke-width="0.9"/>
<text transform="translate(350.00,799.77) scale(1.03,1)" font-size="8.3" font-style="italic" text-anchor="end" fill="#222">IDH2</text>
<line x1="354.30" y1="797.77" x2="358.60" y2="797.77" stroke="#111" stroke-width="0.9"/>
<text transform="translate(350.00,808.91) scale(1.03,1)" font-size="8.3" font-style="italic" text-anchor="end" fill="#222">TET3</text>
<line x1="354.30" y1="806.91" x2="358.60" y2="806.91" stroke="#111" stroke-width="0.9"/>
<text transform="translate(350.00,818.06) scale(1.03,1)" font-size="8.3" font-style="italic" text-anchor="end" fill="#222">PTPN11</text>
<line x1="354.30" y1="816.06" x2="358.60" y2="816.06" stroke="#111" stroke-width="0.9"/>
<text transform="translate(350.00,827.20) scale(1.03,1)" font-size="8.3" font-style="italic" text-anchor="end" fill="#222">IDH1</text>
<line x1="354.30" y1="825.20" x2="358.60" y2="825.20" stroke="#111" stroke-width="0.9"/>
<text transform="translate(350.00,836.35) scale(1.03,1)" font-size="8.3" font-style="italic" text-anchor="end" fill="#222">FLT3</text>
<line x1="354.30" y1="834.35" x2="358.60" y2="834.35" stroke="#111" stroke-width="0.9"/>
<text transform="translate(350.00,845.50) scale(1.03,1)" font-size="8.3" font-style="italic" text-anchor="end" fill="#222">AKT1</text>
<line x1="354.30" y1="843.50" x2="358.60" y2="843.50" stroke="#111" stroke-width="0.9"/>
<text transform="translate(350.00,854.64) scale(1.03,1)" font-size="8.3" font-style="italic" text-anchor="end" fill="#222">GATA3</text>
<line x1="354.30" y1="852.64" x2="358.60" y2="852.64" stroke="#111" stroke-width="0.9"/>
<line x1="76.60" y1="464.3" x2="76.60" y2="857.30" stroke="#111" stroke-width="1.1"/>
<line x1="76.10" y1="857.30" x2="220.60" y2="857.30" stroke="#111" stroke-width="1.1"/>
<line x1="358.60" y1="464.3" x2="358.60" y2="857.30" stroke="#111" stroke-width="1.1"/>
<line x1="358.10" y1="857.30" x2="502.70" y2="857.30" stroke="#111" stroke-width="1.1"/>
<line x1="82.50" y1="857.30" x2="82.50" y2="861.30" stroke="#111" stroke-width="0.9"/>
<text x="82.50" y="873.8" font-size="9.1" text-anchor="middle" fill="#333">0</text>
<line x1="111.72" y1="857.30" x2="111.72" y2="861.30" stroke="#111" stroke-width="0.9"/>
<text x="111.72" y="873.8" font-size="9.1" text-anchor="middle" fill="#333">50</text>
<line x1="140.95" y1="857.30" x2="140.95" y2="861.30" stroke="#111" stroke-width="0.9"/>
<text x="140.95" y="873.8" font-size="9.1" text-anchor="middle" fill="#333">100</text>
<line x1="170.18" y1="857.30" x2="170.18" y2="861.30" stroke="#111" stroke-width="0.9"/>
<text x="170.18" y="873.8" font-size="9.1" text-anchor="middle" fill="#333">150</text>
<line x1="199.40" y1="857.30" x2="199.40" y2="861.30" stroke="#111" stroke-width="0.9"/>
<text x="199.40" y="873.8" font-size="9.1" text-anchor="middle" fill="#333">200</text>
<line x1="365.30" y1="857.30" x2="365.30" y2="861.30" stroke="#111" stroke-width="0.9"/>
<text x="365.30" y="873.8" font-size="9.1" text-anchor="middle" fill="#333">0.00</text>
<line x1="397.98" y1="857.30" x2="397.98" y2="861.30" stroke="#111" stroke-width="0.9"/>
<text x="397.98" y="873.8" font-size="9.1" text-anchor="middle" fill="#333">0.25</text>
<line x1="430.65" y1="857.30" x2="430.65" y2="861.30" stroke="#111" stroke-width="0.9"/>
<text x="430.65" y="873.8" font-size="9.1" text-anchor="middle" fill="#333">0.50</text>
<line x1="463.32" y1="857.30" x2="463.32" y2="861.30" stroke="#111" stroke-width="0.9"/>
<text x="463.32" y="873.8" font-size="9.1" text-anchor="middle" fill="#333">0.75</text>
<line x1="496.00" y1="857.30" x2="496.00" y2="861.30" stroke="#111" stroke-width="0.9"/>
<text x="496.00" y="873.8" font-size="9.1" text-anchor="middle" fill="#333">1.00</text>
<text transform="translate(148.1,725.3) scale(0.93,1)" font-size="8.3" fill="#222">Type of alteration</text>
<rect x="147.4" y="731.0" width="8.8" height="8.6" fill="#2aa9e0"/>
<text transform="translate(160.3,738.2) scale(0.93,1)" font-size="8.3" fill="#222">Deletion</text>
<rect x="147.4" y="743.8" width="8.8" height="8.6" fill="#35ac33"/>
<text transform="translate(160.3,751.0) scale(0.93,1)" font-size="8.3" fill="#222">Deletion and mutation</text>
<rect x="147.4" y="756.5" width="8.8" height="8.6" fill="#c4640f"/>
<text transform="translate(160.3,763.7) scale(0.93,1)" font-size="8.3" fill="#222">Mutation</text>
</svg>
</body></html>
